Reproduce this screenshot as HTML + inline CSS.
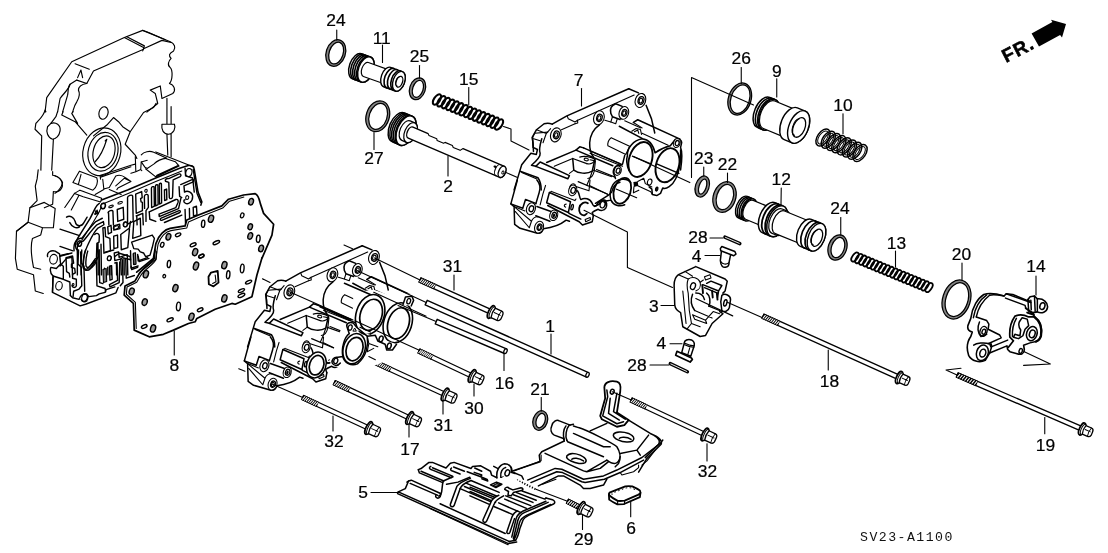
<!DOCTYPE html>
<html><head><meta charset="utf-8"><title>SV23-A1100</title>
<style>
html,body{margin:0;padding:0;background:#fff;}
body{width:1108px;height:553px;overflow:hidden;font-family:"Liberation Sans",sans-serif;}
svg{display:block}

.l{font-family:"Liberation Sans",sans-serif;font-size:17.4px;fill:#000;text-anchor:middle;stroke:#000;stroke-width:0.22px}
.k{stroke:#000;fill:none;stroke-width:1.1;stroke-linecap:round;stroke-linejoin:round}
.t{stroke:#000;fill:none;stroke-width:1.15;stroke-linecap:round;stroke-linejoin:round}
.b{stroke:#000;fill:none;stroke-width:1.5;stroke-linecap:round;stroke-linejoin:round}
.w{stroke:#000;fill:#fff;stroke-width:1.1;stroke-linecap:round;stroke-linejoin:round}
.f{fill:#000;stroke:none}
.c{stroke:#000;fill:none;stroke-width:1.4;stroke-linecap:round;stroke-linejoin:round}
</style></head><body>
<svg style="will-change:transform;opacity:0.9999" width="1108" height="553" viewBox="0 0 1108 553">
<rect width="1108" height="553" fill="#fff"/>
<!-- 10_case.svg -->
<path class="t" d="M 142.72 30.35 L 124.36 37.53 L 71.76 61.74 L 46.72 97.64 L 45.05 112.17" /><path class="t" d="M 142.72 30.35 L 170.28 41.71 C 174.45 43.38 176.12 47.55 173.61 50.89 C 168.61 53.39 168.61 55.9 171.11 58.4 C 168.61 60.91 166.94 65.08 170.28 67.59 C 172.78 70.09 172.78 80.11 169.44 83.45 C 174.45 85.12 176.12 90.13 172.78 93.47 L 161.93 98.48 L 160.26 85.95 L 150.24 90.13 L 155.25 93.47 L 157.75 103.49 L 146.9 112.17" /><path class="t" d="M 124.36 37.53 L 143.56 47.55 M 126.86 36.7 L 144.39 45.88 L 142.72 50.89 M 143.56 30.69 L 148.57 32.52 L 165.27 39.7 M 143.56 48.72 L 161.93 40.37 L 171.11 42.54" /><path class="t" d="M 143.56 49.22 L 93.47 70.93 L 86.79 83.45 L 76.77 80.11 M 75.1 63.75 L 89.29 69.26 M 77.61 77.61 L 80.95 70.09 L 82.61 77.61" /><path class="t" d="M 76.77 80.11 L 70.09 84.28 C 68.42 90.13 63.41 93.47 60.07 98.48 L 57.57 112.17" /><path class="t" d="M 86.79 83.45 C 81.78 84.28 78.44 86.79 78.44 90.13 C 80.95 95.14 78.44 98.48 76.77 101.82 C 73.43 106.83 73.43 110.17 72.6 112.17 M 70.09 84.28 C 67.59 86.79 68.42 91.8 67.59 95.14 L 62.58 112.17" /><path class="t" d="M 45.88 111.69 L 45.05 110.02 C 43.38 116.7 38.37 120.04 35.86 123.38 L 35.03 129.22 L 41.71 135.9 L 40.87 170.13" /><path class="t" d="M 57.57 111.69 L 55.9 116.7 L 50.89 123.38 M 53.39 139.24 L 51.72 170.13" /><path class="t" d="M 50.89 123.38 C 55.9 121.71 60.91 125.05 60.07 130.89 C 59.24 135.9 55.9 139.24 52.56 139.24 C 47.55 137.57 45.88 131.72 47.55 126.72 Z" /><path class="t" d="M 63.08 111.69 L 61.74 115.03 L 75.1 121.71 L 86.79 135.06 M 73.1 111.69 L 71.76 113.36 L 77.61 123.38" /><ellipse class="t" cx="103.49" cy="113.02" rx="4.51" ry="6.34" transform="rotate(15 103.49 113.02)" /><path class="t" d="M 156.08 103.34 L 153.58 107.51 L 143.56 112.52 L 130.2 131.72 L 122.69 126.72 L 118.51 121.71 L 113.5 117.53 L 106.83 125.05 L 93.47 135.9 M 130.2 131.72 L 125.19 144.25 L 135.21 155.1 L 136.88 158.44" /><path class="t" d="M 166.94 98.33 L 166.94 123.38 M 171.11 106.68 L 171.11 123.38 M 161.93 124.21 C 161.09 130.06 163.6 134.23 168.61 134.23 C 173.61 133.39 176.12 128.39 174.45 124.21 M 161.93 124.21 L 174.45 124.21 M 166.94 134.23 L 167.77 155.1 M 171.11 133.39 L 171.11 156.77" /><ellipse class="t" cx="101.82" cy="151.76" rx="18.7" ry="24.21" transform="rotate(15 101.82 151.76)" /><ellipse class="t" cx="102.99" cy="151.76" rx="14.69" ry="19.7" transform="rotate(15 102.99 151.76)" /><ellipse class="t" cx="103.99" cy="151.76" rx="10.69" ry="16.2" transform="rotate(15 103.99 151.76)" /><path class="t" d="M 106.83 139.24 C 103.49 150.09 100.15 156.77 95.14 161.78 M 106.83 139.24 L 105.16 140.91" /><path class="k" d="M 72.9 182.55 L 79.41 171.16 L 96.77 177.67 C 98.4 181.46 96.77 187.43 92.97 190.14 Z M 81.04 174.41 L 78.33 184.72" /><path class="k" d="M 100.03 175.5 L 130.95 165.19 L 135.29 164.1 M 100.57 177.12 L 130.95 166.82 M 100.03 175.5 L 100.57 179.29" /><path class="k" d="M 102.74 179.29 L 103.82 189.06 L 109.25 187.43 L 115.76 176.04 C 119.01 174.41 123.35 176.04 125.52 177.67 L 130.95 181.46 L 117.93 187.97 L 116.84 189.6 M 115.76 185.8 L 124.44 178.21 L 130.95 181.46" /><path class="k" d="M 135.29 156.51 L 135.83 171.7 L 130.95 173.33 M 135.83 171.7 L 140.71 169.53 L 141.25 161.93 L 147.22 160.31 M 140.71 169.53 L 141.8 170.61" /><path class="k" d="M 141.25 154.88 C 143.97 151.63 149.39 150.54 153.73 152.17 L 166.75 158.14 C 162.41 158.68 156.99 160.85 153.73 164.1 L 147.22 168.44 L 145.05 167.36 L 141.25 161.93" /><path class="k" d="M 74.53 193.4 L 79.95 190.14 L 101.65 198.28 M 79.95 190.14 L 84.29 191.77 M 74.53 193.4 L 64.76 207.5 M 78.87 195.57 L 71.27 209.89 M 74.53 193.4 L 83.21 196.65 L 100.57 202.08 L 101.65 198.28" /><path class="k" d="M 95.14 194.48 L 103.82 189.6 M 109.25 189.6 L 121.18 194.48" /><path class="k" d="M 55 176.04 C 58.25 177.12 61.51 179.29 62.59 182.55 C 61.51 186.89 58.25 191.23 55 193.4" /><path class="k" d="M 145.49 168.74 L 155.79 176.88 L 179.11 166.03 L 175.31 161.69 L 165.55 158.44 M 155.79 176.88 L 156.88 175.25 L 178.57 165.16 M 155.79 151.93 L 193.75 167.11" /><path class="b" d="M 200.78 205.14 L 201.87 201.89 L 198.07 192.12 L 194.27 169.34 C 193.73 166.08 191.56 165 188.31 165.54 L 179.63 168.25 L 155.76 178.02 L 127.55 189.95 L 101.51 199.94" /><path class="b" d="M 99.31 203.39 C 96.81 204.73 95.97 206.73 95.14 208.4 L 90.13 218.42 L 77.61 238.46 C 74.27 243.47 75.1 248.48 77.61 250.15" /><path class="k" d="M 102.59 204.06 L 127.55 193.75 L 155.76 181.49 L 181.8 170.97" /><path class="k" d="M 101.82 207.07 C 100.15 208.74 99.81 210.41 99.31 211.74 L 93.47 221.76 L 81.78 240.13" /><ellipse class="k" cx="102.99" cy="205.9" rx="2.14" ry="2.67" transform="rotate(15 102.99 205.9)" /><ellipse class="k" cx="79.28" cy="243.47" rx="2.14" ry="2.67" transform="rotate(15 79.28 243.47)" /><ellipse class="k" cx="125.19" cy="224.27" rx="2" ry="2.5" transform="rotate(15 125.19 224.27)" /><ellipse class="k" cx="116.01" cy="227.61" rx="2.84" ry="1.5" transform="rotate(-20 116.01 227.61)" /><path class="k" d="M 94.8 213.75 L 97.14 210.07 L 98.48 213.75 Z" /><path class="c" d="M 127.55 197.55 C 127.55 195.92 131.89 194.08 132.65 195.92 L 133.19 221.42 L 127.55 224.13 Z" /><path class="c" d="M 135.69 194.08 L 141.65 191.58 L 142.2 197.55 L 140.57 198.63 L 141.11 201.89 L 142.41 202.43 L 142.41 210.57 L 136.23 213.28 Z" /><path class="c" d="M 144.37 196.46 C 144.37 194.29 148.16 193.43 148.16 195.6 L 148.38 207.31 L 145.99 210.57 L 145.99 221.42 M 144.37 196.46 L 144.58 208.4" /><path class="c" d="M 151.42 188.33 C 151.42 186.7 154.13 185.83 154.13 187.57 L 154.35 206.23 L 151.63 207.53 Z" /><path class="c" d="M 155.43 186.16 C 155.43 184.75 157.93 183.99 157.93 185.61 L 158.14 204.6 L 155.65 205.9 Z" /><path class="c" d="M 159.23 184.53 C 159.23 183.23 161.4 182.58 161.4 184.1 L 161.62 202.97 L 159.45 204.06 Z" /><path class="c" d="M 165.52 181.27 C 164.44 179.65 166.61 178.02 168.78 178.56 L 178.54 174.22 C 180.71 173.14 181.8 175.31 180.17 176.72 L 173.12 179.97 L 172.57 196.46 C 172.57 198.63 169.86 199.5 169.32 197.55 L 168.78 182.36 Z" /><path class="c" d="M 164.44 189.95 L 166.61 189.09 L 166.82 199.72 L 164.65 200.59 Z" /><path class="c" d="M 180.71 184.53 L 192.1 179.65 C 193.73 179.1 194.27 181.27 192.65 182.14 L 183.97 185.83 L 184.51 192.12 C 187.22 189.95 192.65 192.12 192.65 196.46 C 192.65 201.89 188.31 205.14 185.05 202.97 C 183.42 201.89 183.42 199.72 185.05 199.72" /><path class="c" d="M 179.08 186.7 L 179.63 196.46 L 181.8 197.55" /><path class="c" d="M 193.19 169.34 L 196.99 193.21 L 200.78 202.43 M 185.05 168.25 L 185.59 175.85 L 192.65 178.02 L 194.27 192.12" /><path class="c" d="M 149.25 211.87 L 175.83 199.5 C 178 198.85 178.54 200.8 178 202.43 L 175.83 207.53 L 159.01 214.04 L 159.23 216.54 L 178.54 208.62 L 180.93 198.09" /><path class="c" d="M 149.25 211.87 L 149.79 219.25 L 155.76 221.42" /><path class="c" d="M 161.18 218.16 L 179.08 210.57 C 180.71 210.35 180.71 212.2 179.41 212.74 L 161.72 220.33 C 160.1 220.55 159.88 218.71 161.18 218.16 Z" /><path class="c" d="M 164.44 222.5 L 181.8 215.12" /><path class="c" d="M 185.05 209.48 L 185.59 224.89 M 189.39 208.4 L 189.61 219.25 M 193.19 207.31 L 193.51 215.99 L 196.99 214.91 L 196.44 206.23 Z" /><path class="c" d="M 108.02 212.74 C 108.02 211.11 112.36 209.48 112.9 211.11 L 113.44 224.89 M 108.56 212.74 L 108.89 224.89" /><path class="c" d="M 117.24 209.48 L 123.21 207.31 L 123.75 219.25 L 117.78 221.42 Z" /><path class="c" d="M 136.23 215.99 L 142.74 213.28 L 143.28 224.89 M 136.77 215.99 L 137.1 224.89" /><path class="c" d="M 95.54 211.11 L 97.71 212.74 L 95 214.37" /><ellipse class="k" cx="145.99" cy="190.82" rx="1.19" ry="1.52" transform="rotate(15 145.99 190.82)" /><ellipse class="k" cx="187.22" cy="197.55" rx="1.52" ry="1.95" transform="rotate(15 187.22 197.55)" /><ellipse class="k" cx="188.85" cy="172.59" rx="3.04" ry="4.12" transform="rotate(15 188.85 172.59)" /><ellipse class="k" cx="103.14" cy="206.01" rx="2.39" ry="3.04" transform="rotate(15 103.14 206.01)" /><ellipse class="k" cx="111.06" cy="206.45" rx="2.39" ry="0.98" transform="rotate(-20 111.06 206.45)" /><ellipse class="k" cx="120.17" cy="202.76" rx="2.39" ry="0.98" transform="rotate(-20 120.17 202.76)" /><path class="c" d="M 74.1 250.8 C 73.02 242.12 77.36 237.78 81.7 238.33 C 84.95 234.53 90.38 226.93 95.8 221.51 L 102.31 218.25" /><path class="c" d="M 77.36 251.89 C 76.27 245.38 79.53 241.04 83.33 241.04 C 87.12 236.7 91.46 230.19 96.89 224.76 L 103.4 221.51 L 103.94 224.76 L 97.97 228.02 C 92.55 233.44 90.38 239.95 87.12 246.46 C 84.95 250.8 83.33 258.4 83.33 264.91 C 83.33 269.25 86.04 270.33 88.21 268.16 L 94.72 260.57" /><path class="c" d="M 80.61 251.89 L 81.16 274.89 M 77.36 252.43 L 77.36 274.89" /><path class="c" d="M 94.72 234.53 C 96.89 232.36 99.6 233.44 99.28 236.7 L 99.06 242.12 L 96.89 243.43 L 96.35 260.57 C 95.8 263.82 92.55 267.08 89.29 269.25 M 97.97 243.21 L 98.19 274.89 M 101.01 244.29 L 101.45 274.89" /><path class="c" d="M 102.86 228.02 L 105.03 227.48 L 105.57 236.7 L 109.91 238.33 L 110.45 250.8 L 103.94 253.19 L 103.4 236.7 Z" /><path class="c" d="M 107.74 226.93 L 110.99 225.31 L 111.54 232.36 L 108.28 233.99 Z" /><path class="c" d="M 113.71 225.85 L 119.67 224.22 L 119.89 228.56 L 113.92 230.19 Z" /><path class="c" d="M 113.71 236.16 L 117.5 235.07 L 117.72 247.55 L 113.92 248.63 Z" /><path class="c" d="M 120.76 234.53 L 129.44 228.02 L 130.52 221.51 M 120.76 234.53 L 121.3 249.72 L 127.81 247.55 L 129.44 229.1" /><path class="c" d="M 133.78 221.51 L 140.29 218.25 L 140.83 235.61 L 132.69 238.33 Z" /><path class="c" d="M 131.61 242.12 L 152.22 235.07 L 154.39 238.33 L 152.22 247.55 L 150.05 255.14 L 145.71 256.77 L 143.54 252.97 L 140.29 251.89 L 138.12 249.18 L 133.78 248.63 Z" /><path class="c" d="M 114.25 252.97 L 118.59 251.89 L 119.13 257.31 L 127.27 254.6 L 127.81 274.89 M 114.25 252.97 L 114.79 260.57 L 120.76 258.94 L 121.3 274.89 M 124.01 258.4 L 124.23 274.89" /><path class="c" d="M 130.52 250.8 L 131.06 268.16 L 138.12 265.99 M 138.12 256.23 L 139.2 261.65 L 148.97 258.4" /><path class="c" d="M 104.48 268.16 L 104.7 274.89 M 107.74 267.08 L 107.95 274.89 M 110.99 265.99 L 111.21 274.89 M 116.42 262.74 L 116.63 274.89" /><path class="c" d="M 66.51 217.17 C 69.76 215 74.1 217.17 75.19 221.51 C 76.27 226.93 81.7 226.93 83.87 222.59 L 87.12 217.17 M 69.76 222.59 C 71.93 226.93 76.27 229.1 79.53 226.93" /><path class="c" d="M 60 229.1 L 79.53 235.61 M 60 246.46 L 73.02 250.8 M 60 256.23 L 71.93 252.97 M 60 265.99 L 66.51 258.4 L 71.93 257.31 L 72.48 274.89" /><ellipse class="k" cx="79.53" cy="243.75" rx="2.17" ry="2.71" transform="rotate(15 79.53 243.75)" /><ellipse class="k" cx="125.64" cy="224.55" rx="1.95" ry="2.39" transform="rotate(15 125.64 224.55)" /><ellipse class="k" cx="109.37" cy="258.4" rx="1.95" ry="2.39" transform="rotate(15 109.37 258.4)" /><path class="k" d="M 133.23 254.06 L 135.4 253.52 L 135.62 263.82 L 133.45 264.37 Z" style="fill:#777"/><path class="t" d="M 38.19 169.88 L 37.11 178.91 L 35.3 186.14 L 37.11 200.6 L 29.88 207.82 L 28.07 222.28 L 16.51 231.32 L 15.42 258.42 L 17.23 269.26 L 33.49 274.68 L 35.3 290.95 L 43.25 293.48" /><path class="t" d="M 52.65 171.68 L 52.65 175.3 C 60.6 176.02 64.93 184.33 60.6 189.75 C 57.71 192.65 54.09 191.92 53.37 191.56 L 52.65 204.21 L 44.33 207.82" /><path class="t" d="M 29.88 207.82 L 44.33 202.4 L 55.18 208.55 L 53.37 227.7 L 42.53 227.7 L 28.07 222.28 M 42.53 227.7 L 40.72 234.93 L 32.41 238.54 C 29.88 247.58 31.68 258.42 33.49 267.46 L 40.72 269.26 M 16.51 231.32 L 28.07 222.28" /><path class="c" d="M 47.59 256.51 C 46.51 252.17 50.85 250 55.19 251.08 L 59.53 253.8 L 60.61 264.1 L 56.27 268.44 L 50.85 267.36 C 49.76 270.61 50.85 273.87 53.02 276.04 L 52.48 292.31 L 80.14 305.88 L 85.57 304.25 L 115.95 292.86 L 118.12 287.43" /><path class="c" d="M 60.61 255.42 L 68.21 253.8 M 60.61 264.1 L 63.33 266.27 L 63.33 279.29 L 53.02 276.04 M 63.33 279.29 L 69.84 282.01 L 70.38 295.57 M 52.48 292.31 L 53.02 277.12" /><path class="c" d="M 70.38 295.57 L 72.55 297.74 L 79.06 299.37 C 80.14 295.57 83.4 292.86 86.65 293.94 L 88.82 296.65 L 96.42 295.57 L 99.13 293.94 L 105.1 292.31 L 106.18 289.6 L 114.86 286.89 M 86.65 293.94 C 88.28 295.57 88.28 298.82 86.65 300.99 C 84.48 302.62 81.77 301.54 81.23 299.37" /><path class="c" d="M 66.04 257.59 L 72.55 255.97 L 73.63 263.02 L 71.46 264.1 L 71.46 267.36 L 74.72 268.44 L 75.26 272.78 L 72.55 274.41 L 72.55 278.21 L 76.35 279.29 L 76.35 285.8 C 75.8 287.97 72.55 287.97 72.01 285.8 M 66.04 257.59 L 66.58 271.7 L 69.29 273.33 L 69.84 277.12" /><path class="c" d="M 78.52 250 L 77.97 264.1 L 81.23 267.36 L 81.77 285.8 L 79.06 289.06 L 73.63 291.23 L 73.09 296.65" /><path class="c" d="M 81.77 250 L 81.23 263.02 L 83.94 266.27 L 84.7 291.23" /><path class="c" d="M 85.57 250 C 83.4 255.42 83.4 260.85 82.86 266.27 C 83.4 270.61 87.74 271.7 90.45 268.44 L 96.42 259.76 L 98.59 256.51 L 99.13 250" /><path class="c" d="M 87.74 251.08 C 86.11 256.51 85.57 263.02 86.11 266.27 C 87.2 268.44 89.37 267.36 90.99 265.19 L 95.33 258.68" /><path class="c" d="M 96.42 261.93 L 96.96 285.8 L 105.1 288.52 L 105.64 291.77" /><path class="c" d="M 99.13 250 L 99.67 282.55 L 102.93 283.63" /><path class="c" d="M 109.44 266.27 L 111.61 265.73 L 112.15 279.29 L 109.98 280.16 Z" /><path class="c" d="M 114.86 263.02 L 117.03 262.48 L 117.57 280.38 L 109.44 284.72 L 109.98 286.89 L 119.2 282.55 L 119.74 261.93" /><path class="c" d="M 122.46 259.76 L 123 282.55 L 120.29 285.8" /><path class="c" d="M 125.71 258.68 L 126.25 278.21 L 134.39 275.5" /><path class="c" d="M 105.1 252.17 L 113.78 250" /><path class="c" d="M 114.86 256.51 L 119.2 253.25 L 130.05 256.51 L 130.59 259.76 L 122.46 257.59 L 120.29 259.76" /><path class="c" d="M 137.65 254.34 L 138.19 260.85 L 147.41 257.59 M 131.14 266.27 L 131.68 269.53 L 137.65 267.36" /><ellipse class="k" cx="53.56" cy="259.22" rx="3.8" ry="4.88" transform="rotate(10 53.56 259.22)" /><ellipse class="k" cx="58.99" cy="285.8" rx="3.25" ry="4.34" transform="rotate(10 58.99 285.8)" /><ellipse class="k" cx="84.48" cy="297.74" rx="2.71" ry="3.58" transform="rotate(15 84.48 297.74)" /><ellipse class="k" cx="73.09" cy="284.72" rx="0.87" ry="1.19" transform="rotate(15 73.09 284.72)" /><ellipse class="k" cx="109.22" cy="258.14" rx="1.84" ry="2.39" transform="rotate(15 109.22 258.14)" /><path class="k" d="M 102.93 269.53 L 106.18 268.44 L 106.72 281.46 L 103.47 282.55 Z" style="fill:#777"/><path class="k" d="M 133.31 253.25 L 135.48 252.71 L 136.02 264.1 L 133.85 264.65 Z" style="fill:#777"/>

<!-- 15_gasket.svg -->
<path d="M 136.71 272.17 L 153.4 258.48 L 155.91 243.45 C 158.41 235.1 165.09 229.26 170.1 228.42 L 185.13 225.92 L 186.8 220.07 L 198.49 215.06 L 221.86 205.88 L 228.54 199.2 L 243.57 195.03 L 255.26 193.69 C 258.6 195.03 259.43 200.04 260.27 203.38 L 263.61 213.39 L 273.62 224.25 L 271.95 235.1 L 261.94 258.48 L 260.27 272.17 L 256.93 275.05 L 251.92 296.75 L 235.22 304.27 L 231.88 303.43 L 215.18 309.28 L 196.82 318.46 L 195.15 321.8 L 188.47 323.47 L 173.44 330.15 L 163.42 334.32 L 149.23 336.83 L 134.2 330.15 L 133.37 303.43 L 124.18 295.08 L 125.02 285.9 L 135.04 280.89 L 138.38 275.05 Z" fill="#fff" stroke="none"/><path class="b" d="M 136.71 272.17 L 153.4 258.48 L 155.91 243.45 C 158.41 235.1 165.09 229.26 170.1 228.42 L 185.13 225.92 L 186.8 220.07 L 198.49 215.06 L 221.86 205.88 L 228.54 199.2 L 243.57 195.03 L 255.26 193.69 C 258.6 195.03 259.43 200.04 260.27 203.38 L 263.61 213.39 L 273.62 224.25 L 271.95 235.1 L 262.27 257.64" style="stroke-width:1.7"/><path class="b" d="M 155.07 250 L 154.24 258.35 C 151.73 263.36 141.72 268.37 138.38 275.05 L 135.04 280.89 L 125.02 285.9 L 124.18 295.08 L 133.37 303.43 L 134.2 330.15 L 149.23 336.83 L 163.42 334.32 L 173.44 330.15 L 188.47 323.47 L 195.15 321.8 L 196.82 318.46 L 215.18 309.28 L 231.88 303.43 L 235.22 304.27 L 251.92 296.75 L 256.93 275.05 L 262.1 257.51" style="stroke-width:1.7"/><path class="k" d="M 140.05 272.17 L 155.57 259.48 L 158.08 244.28 C 160.42 236.77 165.93 231.43 170.94 230.59 L 186.8 227.92 L 188.47 222.08 L 199.32 217.23 L 222.7 208.05 L 229.54 201.21 L 243.9 197.03" /><path class="k" d="M 156.74 251.67 L 156.24 259.18 C 153.74 264.69 143.72 269.7 140.38 276.05 L 136.71 282.23 L 127.02 287.07 L 126.35 294.25 L 135.37 302.43 L 136.21 328.48" /><ellipse class="k" cx="251.08" cy="201.71" rx="2.3" ry="3.38" transform="rotate(18 251.08 201.71)" style="stroke-width:1.4;fill:#9a9a9a"/><ellipse class="k" cx="242.23" cy="215.4" rx="1.67" ry="2.5" transform="rotate(18 242.23 215.4)" style="stroke-width:1.3"/><ellipse class="k" cx="250.25" cy="226.75" rx="2.15" ry="3.07" transform="rotate(18 250.25 226.75)" style="stroke-width:1.4;fill:#9a9a9a"/><ellipse class="k" cx="250.25" cy="235.94" rx="2.3" ry="3.38" transform="rotate(18 250.25 235.94)" style="stroke-width:1.4;fill:#9a9a9a"/><ellipse class="k" cx="258.26" cy="238.77" rx="1.84" ry="3.67" transform="rotate(5 258.26 238.77)" style="stroke-width:1.4"/><ellipse class="k" cx="261.1" cy="248.46" rx="2.3" ry="3.38" transform="rotate(18 261.1 248.46)" style="stroke-width:1.4;fill:#9a9a9a"/><ellipse class="k" cx="211.01" cy="218.74" rx="2.46" ry="3.69" transform="rotate(18 211.01 218.74)" style="stroke-width:1.4;fill:#9a9a9a"/><ellipse class="k" cx="203.16" cy="223.75" rx="1.67" ry="3.67" transform="rotate(5 203.16 223.75)" style="stroke-width:1.4"/><ellipse class="k" cx="168.43" cy="236.77" rx="2.3" ry="3.38" transform="rotate(18 168.43 236.77)" style="stroke-width:1.4;fill:#9a9a9a"/><ellipse class="k" cx="178.12" cy="234.77" rx="2.84" ry="1.5" transform="rotate(-25 178.12 234.77)" style="stroke-width:1.4"/><ellipse class="k" cx="162.25" cy="244.79" rx="1.67" ry="2.5" transform="rotate(18 162.25 244.79)" style="stroke-width:1.3"/><ellipse class="k" cx="193.14" cy="244.79" rx="3.17" ry="1.5" transform="rotate(-25 193.14 244.79)" style="stroke-width:1.4"/><ellipse class="k" cx="216.35" cy="242.61" rx="3.51" ry="1.5" transform="rotate(-25 216.35 242.61)" style="stroke-width:1.4"/><ellipse class="k" cx="195.15" cy="252.13" rx="2.46" ry="3.69" transform="rotate(18 195.15 252.13)" style="stroke-width:1.4;fill:#9a9a9a"/><ellipse class="k" cx="201.32" cy="255.97" rx="2.84" ry="1.5" transform="rotate(-25 201.32 255.97)" style="stroke-width:1.4"/><ellipse class="k" cx="168.93" cy="263.99" rx="1.67" ry="3.67" transform="rotate(5 168.93 263.99)" style="stroke-width:1.4"/><ellipse class="k" cx="195.98" cy="265.99" rx="2.46" ry="3.99" transform="rotate(18 195.98 265.99)" style="stroke-width:1.4;fill:#9a9a9a"/><ellipse class="k" cx="224.37" cy="265.16" rx="2.46" ry="3.69" transform="rotate(18 224.37 265.16)" style="stroke-width:1.4;fill:#9a9a9a"/><ellipse class="k" cx="242.23" cy="268.5" rx="1.84" ry="4.34" transform="rotate(5 242.23 268.5)" style="stroke-width:1.4"/><ellipse class="k" cx="145.89" cy="274.21" rx="2.46" ry="3.69" transform="rotate(18 145.89 274.21)" style="stroke-width:1.4;fill:#9a9a9a"/><ellipse class="k" cx="131.7" cy="291.41" rx="2.46" ry="3.38" transform="rotate(18 131.7 291.41)" style="stroke-width:1.4;fill:#9a9a9a"/><ellipse class="k" cx="144.72" cy="302.1" rx="2.46" ry="3.38" transform="rotate(18 144.72 302.1)" style="stroke-width:1.4;fill:#9a9a9a"/><ellipse class="k" cx="153.07" cy="328.48" rx="2.46" ry="3.69" transform="rotate(18 153.07 328.48)" style="stroke-width:1.4;fill:#9a9a9a"/><ellipse class="k" cx="144.22" cy="326.47" rx="3.01" ry="1.5" transform="rotate(-25 144.22 326.47)" style="stroke-width:1.4"/><ellipse class="k" cx="170.1" cy="319.79" rx="3.34" ry="1.5" transform="rotate(-25 170.1 319.79)" style="stroke-width:1.4"/><ellipse class="k" cx="164.26" cy="276.21" rx="1.34" ry="1.67" transform="rotate(18 164.26 276.21)" style="stroke-width:1.3"/><ellipse class="k" cx="175.44" cy="288.07" rx="2.46" ry="3.69" transform="rotate(18 175.44 288.07)" style="stroke-width:1.4;fill:#9a9a9a"/><ellipse class="k" cx="178.45" cy="306.44" rx="2" ry="4.34" transform="rotate(5 178.45 306.44)" style="stroke-width:1.4"/><ellipse class="k" cx="191.47" cy="316.79" rx="2.46" ry="3.69" transform="rotate(18 191.47 316.79)" style="stroke-width:1.4;fill:#9a9a9a"/><ellipse class="k" cx="200.16" cy="309.78" rx="3.01" ry="1.5" transform="rotate(-25 200.16 309.78)" style="stroke-width:1.4"/><ellipse class="k" cx="201.32" cy="256.34" rx="2.84" ry="1.5" transform="rotate(-25 201.32 256.34)" style="stroke-width:1.4"/><ellipse class="k" cx="228.21" cy="274.71" rx="1.67" ry="4.01" transform="rotate(5 228.21 274.71)" style="stroke-width:1.4"/><ellipse class="k" cx="224.37" cy="298.42" rx="2.46" ry="3.69" transform="rotate(18 224.37 298.42)" style="stroke-width:1.4;fill:#9a9a9a"/><ellipse class="k" cx="248.58" cy="282.06" rx="3.34" ry="1.34" transform="rotate(-25 248.58 282.06)" style="stroke-width:1.4"/><ellipse class="k" cx="241.4" cy="290.57" rx="3.34" ry="1.34" transform="rotate(-25 241.4 290.57)" style="stroke-width:1.4"/><ellipse class="k" cx="241.4" cy="295.42" rx="3.67" ry="1.5" transform="rotate(-25 241.4 295.42)" style="stroke-width:1.4"/><path class="b" d="M 211.01 272.54 L 217.69 270.87 L 218.52 282.56 L 213.51 286.4 L 208.84 284.23 L 208.5 276.72 Z" style="stroke-width:1.8"/><path class="k" d="M 215.18 275.05 L 216.02 281.72 L 212.68 283.39" /><path class="k" d="M174.25 331L174.25 355" />

<!-- 20_orings.svg -->
<ellipse class="k" cx="335.75" cy="53" rx="9.6" ry="13.6" transform="rotate(18 335.75 53)" style="stroke-width:1.25;stroke:#000;fill:#858585"/><ellipse class="k" cx="336.15" cy="53.1" rx="7" ry="11.2" transform="rotate(18 336.15 53.1)" style="stroke-width:1.25;stroke:#000;fill:#fff"/><ellipse class="k" cx="417.5" cy="88.75" rx="7.8" ry="11.2" transform="rotate(18 417.5 88.75)" style="stroke-width:1.25;stroke:#000;fill:#858585"/><ellipse class="k" cx="417.9" cy="88.85" rx="5.2" ry="8.8" transform="rotate(18 417.9 88.85)" style="stroke-width:1.25;stroke:#000;fill:#fff"/><ellipse class="k" cx="377.75" cy="116.25" rx="11.5" ry="15.8" transform="rotate(18 377.75 116.25)" style="stroke-width:1.25;stroke:#000;fill:#858585"/><ellipse class="k" cx="378.15" cy="116.35" rx="8.9" ry="13.4" transform="rotate(18 378.15 116.35)" style="stroke-width:1.25;stroke:#000;fill:#fff"/><ellipse class="k" cx="739.75" cy="99" rx="11.3" ry="16.5" transform="rotate(18 739.75 99)" style="stroke-width:1.25;stroke:#000;fill:#858585"/><ellipse class="k" cx="740.15" cy="99.1" rx="9.3" ry="14.7" transform="rotate(18 740.15 99.1)" style="stroke-width:1.25;stroke:#000;fill:#fff"/><ellipse class="k" cx="702.25" cy="186.5" rx="6.8" ry="10.8" transform="rotate(18 702.25 186.5)" style="stroke-width:1.25;stroke:#000;fill:#858585"/><ellipse class="k" cx="702.65" cy="186.6" rx="3.6" ry="7.8" transform="rotate(18 702.65 186.6)" style="stroke-width:1.25;stroke:#000;fill:#fff"/><ellipse class="k" cx="724.5" cy="197" rx="11.2" ry="15.8" transform="rotate(18 724.5 197)" style="stroke-width:1.25;stroke:#000;fill:#858585"/><ellipse class="k" cx="724.9" cy="197.1" rx="8.2" ry="13" transform="rotate(18 724.9 197.1)" style="stroke-width:1.25;stroke:#000;fill:#fff"/><ellipse class="k" cx="837.5" cy="247.5" rx="9.2" ry="13" transform="rotate(18 837.5 247.5)" style="stroke-width:1.25;stroke:#000;fill:#858585"/><ellipse class="k" cx="837.9" cy="247.6" rx="6.4" ry="10.4" transform="rotate(18 837.9 247.6)" style="stroke-width:1.25;stroke:#000;fill:#fff"/><ellipse class="k" cx="956.5" cy="299.5" rx="13.8" ry="20" transform="rotate(18 956.5 299.5)" style="stroke-width:1.25;stroke:#000;fill:#858585"/><ellipse class="k" cx="956.9" cy="299.6" rx="11" ry="17.4" transform="rotate(18 956.9 299.6)" style="stroke-width:1.25;stroke:#000;fill:#fff"/><ellipse class="k" cx="540.25" cy="420.5" rx="7.2" ry="10" transform="rotate(18 540.25 420.5)" style="stroke-width:1.25;stroke:#000;fill:#858585"/><ellipse class="k" cx="540.65" cy="420.6" rx="4.4" ry="7.4" transform="rotate(18 540.65 420.6)" style="stroke-width:1.25;stroke:#000;fill:#fff"/>

<!-- 21_springs.svg -->
<ellipse class="k" cx="437" cy="99.5" rx="3" ry="6" transform="rotate(33.96 437 99.5)" style="stroke-width:2.1;fill:none"/><ellipse class="k" cx="441.43" cy="101.29" rx="3" ry="6" transform="rotate(33.96 441.43 101.29)" style="stroke-width:2.1;fill:none"/><ellipse class="k" cx="445.86" cy="103.07" rx="3" ry="6" transform="rotate(33.96 445.86 103.07)" style="stroke-width:2.1;fill:none"/><ellipse class="k" cx="450.29" cy="104.86" rx="3" ry="6" transform="rotate(33.96 450.29 104.86)" style="stroke-width:2.1;fill:none"/><ellipse class="k" cx="454.71" cy="106.64" rx="3" ry="6" transform="rotate(33.96 454.71 106.64)" style="stroke-width:2.1;fill:none"/><ellipse class="k" cx="459.14" cy="108.43" rx="3" ry="6" transform="rotate(33.96 459.14 108.43)" style="stroke-width:2.1;fill:none"/><ellipse class="k" cx="463.57" cy="110.21" rx="3" ry="6" transform="rotate(33.96 463.57 110.21)" style="stroke-width:2.1;fill:none"/><ellipse class="k" cx="468" cy="112" rx="3" ry="6" transform="rotate(33.96 468 112)" style="stroke-width:2.1;fill:none"/><ellipse class="k" cx="472.43" cy="113.79" rx="3" ry="6" transform="rotate(33.96 472.43 113.79)" style="stroke-width:2.1;fill:none"/><ellipse class="k" cx="476.86" cy="115.57" rx="3" ry="6" transform="rotate(33.96 476.86 115.57)" style="stroke-width:2.1;fill:none"/><ellipse class="k" cx="481.29" cy="117.36" rx="3" ry="6" transform="rotate(33.96 481.29 117.36)" style="stroke-width:2.1;fill:none"/><ellipse class="k" cx="485.71" cy="119.14" rx="3" ry="6" transform="rotate(33.96 485.71 119.14)" style="stroke-width:2.1;fill:none"/><ellipse class="k" cx="490.14" cy="120.93" rx="3" ry="6" transform="rotate(33.96 490.14 120.93)" style="stroke-width:2.1;fill:none"/><ellipse class="k" cx="494.57" cy="122.71" rx="3" ry="6" transform="rotate(33.96 494.57 122.71)" style="stroke-width:2.1;fill:none"/><ellipse class="k" cx="499" cy="124.5" rx="3" ry="6" transform="rotate(33.96 499 124.5)" style="stroke-width:2.1;fill:none"/><ellipse class="k" cx="823" cy="137.5" rx="5.6" ry="9.6" transform="rotate(34.73 823 137.5)" style="stroke-width:1.5;fill:none"/><ellipse class="k" cx="828.29" cy="139.71" rx="5.6" ry="9.6" transform="rotate(34.73 828.29 139.71)" style="stroke-width:1.5;fill:none"/><ellipse class="k" cx="833.57" cy="141.93" rx="5.6" ry="9.6" transform="rotate(34.73 833.57 141.93)" style="stroke-width:1.5;fill:none"/><ellipse class="k" cx="838.86" cy="144.14" rx="5.6" ry="9.6" transform="rotate(34.73 838.86 144.14)" style="stroke-width:1.5;fill:none"/><ellipse class="k" cx="844.14" cy="146.36" rx="5.6" ry="9.6" transform="rotate(34.73 844.14 146.36)" style="stroke-width:1.5;fill:none"/><ellipse class="k" cx="849.43" cy="148.57" rx="5.6" ry="9.6" transform="rotate(34.73 849.43 148.57)" style="stroke-width:1.5;fill:none"/><ellipse class="k" cx="854.71" cy="150.79" rx="5.6" ry="9.6" transform="rotate(34.73 854.71 150.79)" style="stroke-width:1.5;fill:none"/><ellipse class="k" cx="860" cy="153" rx="5.6" ry="9.6" transform="rotate(34.73 860 153)" style="stroke-width:1.5;fill:none"/><ellipse class="k" cx="823" cy="137.5" rx="4" ry="7.4" transform="rotate(34.73 823 137.5)" style="stroke-width:1.0;fill:none"/><ellipse class="k" cx="828.29" cy="139.71" rx="4" ry="7.4" transform="rotate(34.73 828.29 139.71)" style="stroke-width:1.0;fill:none"/><ellipse class="k" cx="833.57" cy="141.93" rx="4" ry="7.4" transform="rotate(34.73 833.57 141.93)" style="stroke-width:1.0;fill:none"/><ellipse class="k" cx="838.86" cy="144.14" rx="4" ry="7.4" transform="rotate(34.73 838.86 144.14)" style="stroke-width:1.0;fill:none"/><ellipse class="k" cx="844.14" cy="146.36" rx="4" ry="7.4" transform="rotate(34.73 844.14 146.36)" style="stroke-width:1.0;fill:none"/><ellipse class="k" cx="849.43" cy="148.57" rx="4" ry="7.4" transform="rotate(34.73 849.43 148.57)" style="stroke-width:1.0;fill:none"/><ellipse class="k" cx="854.71" cy="150.79" rx="4" ry="7.4" transform="rotate(34.73 854.71 150.79)" style="stroke-width:1.0;fill:none"/><ellipse class="k" cx="860" cy="153" rx="4" ry="7.4" transform="rotate(34.73 860 153)" style="stroke-width:1.0;fill:none"/><ellipse class="k" cx="855" cy="257" rx="2.6" ry="5.2" transform="rotate(34.4 855 257)" style="stroke-width:1.8;fill:none"/><ellipse class="k" cx="858.89" cy="258.61" rx="2.6" ry="5.2" transform="rotate(34.4 858.89 258.61)" style="stroke-width:1.8;fill:none"/><ellipse class="k" cx="862.79" cy="260.21" rx="2.6" ry="5.2" transform="rotate(34.4 862.79 260.21)" style="stroke-width:1.8;fill:none"/><ellipse class="k" cx="866.68" cy="261.82" rx="2.6" ry="5.2" transform="rotate(34.4 866.68 261.82)" style="stroke-width:1.8;fill:none"/><ellipse class="k" cx="870.58" cy="263.42" rx="2.6" ry="5.2" transform="rotate(34.4 870.58 263.42)" style="stroke-width:1.8;fill:none"/><ellipse class="k" cx="874.47" cy="265.03" rx="2.6" ry="5.2" transform="rotate(34.4 874.47 265.03)" style="stroke-width:1.8;fill:none"/><ellipse class="k" cx="878.37" cy="266.63" rx="2.6" ry="5.2" transform="rotate(34.4 878.37 266.63)" style="stroke-width:1.8;fill:none"/><ellipse class="k" cx="882.26" cy="268.24" rx="2.6" ry="5.2" transform="rotate(34.4 882.26 268.24)" style="stroke-width:1.8;fill:none"/><ellipse class="k" cx="886.16" cy="269.84" rx="2.6" ry="5.2" transform="rotate(34.4 886.16 269.84)" style="stroke-width:1.8;fill:none"/><ellipse class="k" cx="890.05" cy="271.45" rx="2.6" ry="5.2" transform="rotate(34.4 890.05 271.45)" style="stroke-width:1.8;fill:none"/><ellipse class="k" cx="893.95" cy="273.05" rx="2.6" ry="5.2" transform="rotate(34.4 893.95 273.05)" style="stroke-width:1.8;fill:none"/><ellipse class="k" cx="897.84" cy="274.66" rx="2.6" ry="5.2" transform="rotate(34.4 897.84 274.66)" style="stroke-width:1.8;fill:none"/><ellipse class="k" cx="901.74" cy="276.26" rx="2.6" ry="5.2" transform="rotate(34.4 901.74 276.26)" style="stroke-width:1.8;fill:none"/><ellipse class="k" cx="905.63" cy="277.87" rx="2.6" ry="5.2" transform="rotate(34.4 905.63 277.87)" style="stroke-width:1.8;fill:none"/><ellipse class="k" cx="909.53" cy="279.47" rx="2.6" ry="5.2" transform="rotate(34.4 909.53 279.47)" style="stroke-width:1.8;fill:none"/><ellipse class="k" cx="913.42" cy="281.08" rx="2.6" ry="5.2" transform="rotate(34.4 913.42 281.08)" style="stroke-width:1.8;fill:none"/><ellipse class="k" cx="917.32" cy="282.68" rx="2.6" ry="5.2" transform="rotate(34.4 917.32 282.68)" style="stroke-width:1.8;fill:none"/><ellipse class="k" cx="921.21" cy="284.29" rx="2.6" ry="5.2" transform="rotate(34.4 921.21 284.29)" style="stroke-width:1.8;fill:none"/><ellipse class="k" cx="925.11" cy="285.89" rx="2.6" ry="5.2" transform="rotate(34.4 925.11 285.89)" style="stroke-width:1.8;fill:none"/><ellipse class="k" cx="929" cy="287.5" rx="2.6" ry="5.2" transform="rotate(34.4 929 287.5)" style="stroke-width:1.8;fill:none"/>

<!-- 30_bolts.svg -->
<path class="w" d="M301.78 399.5L366.58 429.5L368.42 425.5L303.62 395.5Z" style="stroke-width:1.35"/><path class="f" d="M301.78 399.5L316.3 406.22L318.14 402.23L303.62 395.5Z" style="fill:#000;stroke:#000;stroke-width:1.2"/><path class="k" d="M302.64 399.29L304.94 396.72" style="stroke:#fff;stroke-width:1.05"/><path class="k" d="M304.46 400.13L306.75 397.56" style="stroke:#fff;stroke-width:1.05"/><path class="k" d="M306.27 400.97L308.57 398.4" style="stroke:#fff;stroke-width:1.05"/><path class="k" d="M308.09 401.81L310.38 399.24" style="stroke:#fff;stroke-width:1.05"/><path class="k" d="M309.9 402.65L312.2 400.08" style="stroke:#fff;stroke-width:1.05"/><path class="k" d="M311.72 403.49L314.01 400.92" style="stroke:#fff;stroke-width:1.05"/><path class="k" d="M313.53 404.33L315.83 401.76" style="stroke:#fff;stroke-width:1.05"/><path class="k" d="M315.35 405.17L317.64 402.6" style="stroke:#fff;stroke-width:1.05"/><g transform="translate(367.5 427.5) rotate(24.84)"><ellipse class="w" cx="1.2" cy="0" rx="2.6" ry="6.95" style="stroke-width:1.7"/><ellipse class="w" cx="2.6" cy="0" rx="2.2" ry="5.95" style="stroke-width:1"/><path class="w" style="stroke-width:1.3" d="M3.4 -5.15 L10.5 -5.15 Q13 -5.15 13 -1.55 L13 2.58 Q12.5 5.15 10 5.15 L3.4 5.15 Q1.8 0 3.4 -5.15Z"/><path class="k" style="stroke-width:0.9" d="M4.2 -0.77 L11 -0.77 M10.4 -5.15 Q8.8 0 10 5.15"/></g><path class="w" d="M333.37 384.69L407.57 419.49L409.43 415.51L335.23 380.71Z" style="stroke-width:1.35"/><path class="f" d="M333.37 384.69L347.85 391.49L349.72 387.5L335.23 380.71Z" style="fill:#000;stroke:#000;stroke-width:1.2"/><path class="k" d="M334.23 384.49L336.54 381.93" style="stroke:#fff;stroke-width:1.05"/><path class="k" d="M336.04 385.34L338.35 382.78" style="stroke:#fff;stroke-width:1.05"/><path class="k" d="M337.85 386.19L340.16 383.63" style="stroke:#fff;stroke-width:1.05"/><path class="k" d="M339.67 387.04L341.97 384.48" style="stroke:#fff;stroke-width:1.05"/><path class="k" d="M341.48 387.89L343.78 385.32" style="stroke:#fff;stroke-width:1.05"/><path class="k" d="M343.29 388.74L345.59 386.17" style="stroke:#fff;stroke-width:1.05"/><path class="k" d="M345.1 389.59L347.4 387.02" style="stroke:#fff;stroke-width:1.05"/><path class="k" d="M346.91 390.44L349.21 387.87" style="stroke:#fff;stroke-width:1.05"/><g transform="translate(408.5 417.5) rotate(25.13)"><ellipse class="w" cx="1.2" cy="0" rx="2.6" ry="6.95" style="stroke-width:1.7"/><ellipse class="w" cx="2.6" cy="0" rx="2.2" ry="5.95" style="stroke-width:1"/><path class="w" style="stroke-width:1.3" d="M3.4 -5.15 L10.5 -5.15 Q13 -5.15 13 -1.55 L13 2.58 Q12.5 5.15 10 5.15 L3.4 5.15 Q1.8 0 3.4 -5.15Z"/><path class="k" style="stroke-width:0.9" d="M4.2 -0.77 L11 -0.77 M10.4 -5.15 Q8.8 0 10 5.15"/></g><path class="w" d="M374.58 364.5L443.08 396L444.92 392L376.42 360.5Z" style="stroke-width:1.35"/><path class="f" d="M374.58 364.5L389.12 371.18L390.96 367.19L376.42 360.5Z" style="fill:#000;stroke:#000;stroke-width:1.2"/><path class="k" d="M375.45 364.29L377.73 361.71" style="stroke:#fff;stroke-width:1.05"/><path class="k" d="M377.26 365.13L379.55 362.55" style="stroke:#fff;stroke-width:1.05"/><path class="k" d="M379.08 365.96L381.37 363.38" style="stroke:#fff;stroke-width:1.05"/><path class="k" d="M380.9 366.8L383.19 364.22" style="stroke:#fff;stroke-width:1.05"/><path class="k" d="M382.71 367.63L385 365.05" style="stroke:#fff;stroke-width:1.05"/><path class="k" d="M384.53 368.47L386.82 365.89" style="stroke:#fff;stroke-width:1.05"/><path class="k" d="M386.35 369.31L388.64 366.72" style="stroke:#fff;stroke-width:1.05"/><path class="k" d="M388.17 370.14L390.45 367.56" style="stroke:#fff;stroke-width:1.05"/><g transform="translate(444 394) rotate(24.7)"><ellipse class="w" cx="1.2" cy="0" rx="2.6" ry="6.95" style="stroke-width:1.7"/><ellipse class="w" cx="2.6" cy="0" rx="2.2" ry="5.95" style="stroke-width:1"/><path class="w" style="stroke-width:1.3" d="M3.4 -5.15 L10.5 -5.15 Q13 -5.15 13 -1.55 L13 2.58 Q12.5 5.15 10 5.15 L3.4 5.15 Q1.8 0 3.4 -5.15Z"/><path class="k" style="stroke-width:0.9" d="M4.2 -0.77 L11 -0.77 M10.4 -5.15 Q8.8 0 10 5.15"/></g><path class="w" d="M418.06 352.99L470.06 377.49L471.94 373.51L419.94 349.01Z" style="stroke-width:1.35"/><path class="f" d="M418.06 352.99L430.73 358.96L432.6 354.98L419.94 349.01Z" style="fill:#000;stroke:#000;stroke-width:1.2"/><path class="k" d="M418.79 352.73L421.11 350.17" style="stroke:#fff;stroke-width:1.05"/><path class="k" d="M420.38 353.47L422.69 350.91" style="stroke:#fff;stroke-width:1.05"/><path class="k" d="M421.96 354.22L424.27 351.66" style="stroke:#fff;stroke-width:1.05"/><path class="k" d="M423.54 354.96L425.85 352.41" style="stroke:#fff;stroke-width:1.05"/><path class="k" d="M425.13 355.71L427.44 353.15" style="stroke:#fff;stroke-width:1.05"/><path class="k" d="M426.71 356.46L429.02 353.9" style="stroke:#fff;stroke-width:1.05"/><path class="k" d="M428.29 357.2L430.6 354.64" style="stroke:#fff;stroke-width:1.05"/><path class="k" d="M429.88 357.95L432.19 355.39" style="stroke:#fff;stroke-width:1.05"/><g transform="translate(471 375.5) rotate(25.23)"><ellipse class="w" cx="1.2" cy="0" rx="2.6" ry="6.95" style="stroke-width:1.7"/><ellipse class="w" cx="2.6" cy="0" rx="2.2" ry="5.95" style="stroke-width:1"/><path class="w" style="stroke-width:1.3" d="M3.4 -5.15 L10.5 -5.15 Q13 -5.15 13 -1.55 L13 2.58 Q12.5 5.15 10 5.15 L3.4 5.15 Q1.8 0 3.4 -5.15Z"/><path class="k" style="stroke-width:0.9" d="M4.2 -0.77 L11 -0.77 M10.4 -5.15 Q8.8 0 10 5.15"/></g><path class="w" d="M419.1 282.01L489.1 313.51L490.9 309.49L420.9 277.99Z" style="stroke-width:1.35"/><path class="f" d="M419.1 282.01L433.69 288.57L435.49 284.56L420.9 277.99Z" style="fill:#000;stroke:#000;stroke-width:1.2"/><path class="k" d="M419.96 281.79L422.23 279.19" style="stroke:#fff;stroke-width:1.05"/><path class="k" d="M421.79 282.61L424.05 280.01" style="stroke:#fff;stroke-width:1.05"/><path class="k" d="M423.61 283.43L425.88 280.83" style="stroke:#fff;stroke-width:1.05"/><path class="k" d="M425.43 284.25L427.7 281.66" style="stroke:#fff;stroke-width:1.05"/><path class="k" d="M427.26 285.07L429.52 282.48" style="stroke:#fff;stroke-width:1.05"/><path class="k" d="M429.08 285.9L431.35 283.3" style="stroke:#fff;stroke-width:1.05"/><path class="k" d="M430.9 286.72L433.17 284.12" style="stroke:#fff;stroke-width:1.05"/><path class="k" d="M432.73 287.54L434.99 284.94" style="stroke:#fff;stroke-width:1.05"/><g transform="translate(490 311.5) rotate(24.23)"><ellipse class="w" cx="1.2" cy="0" rx="2.6" ry="6.95" style="stroke-width:1.7"/><ellipse class="w" cx="2.6" cy="0" rx="2.2" ry="5.95" style="stroke-width:1"/><path class="w" style="stroke-width:1.3" d="M3.4 -5.15 L10.5 -5.15 Q13 -5.15 13 -1.55 L13 2.58 Q12.5 5.15 10 5.15 L3.4 5.15 Q1.8 0 3.4 -5.15Z"/><path class="k" style="stroke-width:0.9" d="M4.2 -0.77 L11 -0.77 M10.4 -5.15 Q8.8 0 10 5.15"/></g><path class="w" d="M762.1 318.26L897.1 379.01L898.9 374.99L763.9 314.24Z" style="stroke-width:1.35"/><path class="f" d="M762.1 318.26L777.6 325.23L779.41 321.22L763.9 314.24Z" style="fill:#000;stroke:#000;stroke-width:1.2"/><path class="k" d="M763.03 318.07L765.3 315.47" style="stroke:#fff;stroke-width:1.05"/><path class="k" d="M764.97 318.94L767.23 316.35" style="stroke:#fff;stroke-width:1.05"/><path class="k" d="M766.91 319.82L769.17 317.22" style="stroke:#fff;stroke-width:1.05"/><path class="k" d="M768.84 320.69L771.11 318.09" style="stroke:#fff;stroke-width:1.05"/><path class="k" d="M770.78 321.56L773.05 318.96" style="stroke:#fff;stroke-width:1.05"/><path class="k" d="M772.72 322.43L774.98 319.83" style="stroke:#fff;stroke-width:1.05"/><path class="k" d="M774.66 323.3L776.92 320.71" style="stroke:#fff;stroke-width:1.05"/><path class="k" d="M776.59 324.18L778.86 321.58" style="stroke:#fff;stroke-width:1.05"/><g transform="translate(898 377) rotate(24.23)"><ellipse class="w" cx="1.2" cy="0" rx="2.6" ry="6.45" style="stroke-width:1.7"/><ellipse class="w" cx="2.6" cy="0" rx="2.2" ry="5.45" style="stroke-width:1"/><path class="w" style="stroke-width:1.3" d="M3.4 -4.65 L9.5 -4.65 Q12 -4.65 12 -1.4 L12 2.33 Q11.5 4.65 9 4.65 L3.4 4.65 Q1.8 0 3.4 -4.65Z"/><path class="k" style="stroke-width:0.9" d="M4.2 -0.7 L10 -0.7 M9.4 -4.65 Q7.8 0 9 4.65"/></g><path class="w" d="M956.38 377.02L1080.13 430.52L1081.87 426.48L958.12 372.98Z" style="stroke-width:1.35"/><path class="f" d="M956.38 377.02L975.65 385.35L977.4 381.31L958.12 372.98Z" style="fill:#000;stroke:#000;stroke-width:1.2"/><path class="k" d="M957.58 376.94L959.81 374.31" style="stroke:#fff;stroke-width:1.05"/><path class="k" d="M959.99 377.98L962.22 375.35" style="stroke:#fff;stroke-width:1.05"/><path class="k" d="M962.4 379.02L964.63 376.39" style="stroke:#fff;stroke-width:1.05"/><path class="k" d="M964.81 380.07L967.04 377.43" style="stroke:#fff;stroke-width:1.05"/><path class="k" d="M967.22 381.11L969.45 378.48" style="stroke:#fff;stroke-width:1.05"/><path class="k" d="M969.63 382.15L971.86 379.52" style="stroke:#fff;stroke-width:1.05"/><path class="k" d="M972.04 383.19L974.27 380.56" style="stroke:#fff;stroke-width:1.05"/><path class="k" d="M974.45 384.23L976.68 381.6" style="stroke:#fff;stroke-width:1.05"/><g transform="translate(1081 428.5) rotate(23.38)"><ellipse class="w" cx="1.2" cy="0" rx="2.6" ry="6.45" style="stroke-width:1.7"/><ellipse class="w" cx="2.6" cy="0" rx="2.2" ry="5.45" style="stroke-width:1"/><path class="w" style="stroke-width:1.3" d="M3.4 -4.65 L9.5 -4.65 Q12 -4.65 12 -1.4 L12 2.33 Q11.5 4.65 9 4.65 L3.4 4.65 Q1.8 0 3.4 -4.65Z"/><path class="k" style="stroke-width:0.9" d="M4.2 -0.7 L10 -0.7 M9.4 -4.65 Q7.8 0 9 4.65"/></g><path class="w" d="M630.32 401.99L702.82 435.99L704.68 432.01L632.18 398.01Z" style="stroke-width:1.35"/><path class="f" d="M630.32 401.99L644.8 408.79L646.67 404.8L632.18 398.01Z" style="fill:#000;stroke:#000;stroke-width:1.2"/><path class="k" d="M631.18 401.79L633.49 399.23" style="stroke:#fff;stroke-width:1.05"/><path class="k" d="M632.99 402.64L635.3 400.08" style="stroke:#fff;stroke-width:1.05"/><path class="k" d="M634.8 403.49L637.11 400.93" style="stroke:#fff;stroke-width:1.05"/><path class="k" d="M636.62 404.34L638.92 401.78" style="stroke:#fff;stroke-width:1.05"/><path class="k" d="M638.43 405.19L640.73 402.62" style="stroke:#fff;stroke-width:1.05"/><path class="k" d="M640.24 406.04L642.54 403.47" style="stroke:#fff;stroke-width:1.05"/><path class="k" d="M642.05 406.89L644.35 404.32" style="stroke:#fff;stroke-width:1.05"/><path class="k" d="M643.86 407.74L646.17 405.17" style="stroke:#fff;stroke-width:1.05"/><g transform="translate(703.75 434) rotate(25.12)"><ellipse class="w" cx="1.2" cy="0" rx="2.6" ry="6.95" style="stroke-width:1.7"/><ellipse class="w" cx="2.6" cy="0" rx="2.2" ry="5.95" style="stroke-width:1"/><path class="w" style="stroke-width:1.3" d="M3.4 -5.15 L10.5 -5.15 Q13 -5.15 13 -1.55 L13 2.58 Q12.5 5.15 10 5.15 L3.4 5.15 Q1.8 0 3.4 -5.15Z"/><path class="k" style="stroke-width:0.9" d="M4.2 -0.77 L11 -0.77 M10.4 -5.15 Q8.8 0 10 5.15"/></g><path class="w" d="M566.52 503.22L579.02 509.47L580.98 505.53L568.48 499.28Z" style="stroke-width:1.35"/><path class="f" d="M566.52 503.22L576.35 508.14L578.32 504.2L568.48 499.28Z" style="fill:#000;stroke:#000;stroke-width:1.2"/><path class="k" d="M567.5 503.09L569.87 500.59" style="stroke:#fff;stroke-width:1.05"/><path class="k" d="M569.46 504.08L571.83 501.57" style="stroke:#fff;stroke-width:1.05"/><path class="k" d="M571.43 505.06L573.8 502.56" style="stroke:#fff;stroke-width:1.05"/><path class="k" d="M573.4 506.04L575.77 503.54" style="stroke:#fff;stroke-width:1.05"/><path class="k" d="M575.37 507.03L577.74 504.52" style="stroke:#fff;stroke-width:1.05"/><g transform="translate(580 507.5) rotate(26.57)"><ellipse class="w" cx="1.2" cy="0" rx="2.6" ry="6.95" style="stroke-width:1.7"/><ellipse class="w" cx="2.6" cy="0" rx="2.2" ry="5.95" style="stroke-width:1"/><path class="w" style="stroke-width:1.3" d="M3.4 -5.15 L10.5 -5.15 Q13 -5.15 13 -1.55 L13 2.58 Q12.5 5.15 10 5.15 L3.4 5.15 Q1.8 0 3.4 -5.15Z"/><path class="k" style="stroke-width:0.9" d="M4.2 -0.77 L11 -0.77 M10.4 -5.15 Q8.8 0 10 5.15"/></g>

<!-- 35_rods.svg -->
<path class="w" d="M425.18 304.88L586.48 377.08L588.52 372.52L427.22 300.32Z" style="stroke-width:1.4"/><ellipse class="w" cx="587.5" cy="374.8" rx="1.5" ry="2.5" transform="rotate(24.11 587.5 374.8)" style="stroke-width:1.3"/><path class="w" d="M435.22 323.9L504.52 353.5L506.48 348.9L437.18 319.3Z" style="stroke-width:1.4"/><ellipse class="w" cx="505.5" cy="351.2" rx="1.5" ry="2.5" transform="rotate(23.13 505.5 351.2)" style="stroke-width:1.3"/><path class="k" d="M551 334L551 354" />

<!-- 40_spools.svg -->
<g transform="translate(354.6 65.5) rotate(19.6)"><path class="w" style="stroke-width:1.5" d="M2.5 -13.3L12 -13.3A7.45 13.3 0 0 1 12 13.3L2.5 13.3A7.45 13.3 0 0 1 2.5 -13.3Z"/><path class="k" style="stroke-width:1.6" d="M4.61 -13.3A7.45 13.3 0 0 0 4.61 13.3"/><path class="k" style="stroke-width:1.6" d="M6.72 -13.3A7.45 13.3 0 0 0 6.72 13.3"/><path class="k" style="stroke-width:1.6" d="M8.83 -13.3A7.45 13.3 0 0 0 8.83 13.3"/><path class="k" style="stroke-width:1.6" d="M10.94 -13.3A7.45 13.3 0 0 0 10.94 13.3"/><ellipse class="w" style="stroke-width:1.5" cx="12" cy="0" rx="7.45" ry="13.3"/><path class="w" style="stroke-width:1.2" d="M12 -7.4L36 -7.4A4.14 7.4 0 0 1 36 7.4L12 7.4A4.14 7.4 0 0 1 12 -7.4Z"/><path class="w" style="stroke-width:1.4" d="M34.5 -10.3L47 -10.3A5.77 10.3 0 0 1 47 10.3L34.5 10.3A5.77 10.3 0 0 1 34.5 -10.3Z"/><path class="k" style="stroke-width:1.6" d="M38.07 -10.3A5.77 10.3 0 0 0 38.07 10.3"/><path class="k" style="stroke-width:1.6" d="M41.64 -10.3A5.77 10.3 0 0 0 41.64 10.3"/><path class="k" style="stroke-width:1.6" d="M45.21 -10.3A5.77 10.3 0 0 0 45.21 10.3"/><ellipse class="w" style="stroke-width:1.4" cx="47" cy="0" rx="5.77" ry="10.3"/><ellipse class="w" style="stroke-width:1.3" cx="47.6" cy="0.3" rx="3.14" ry="5.6"/><path class="k" style="stroke-width:1" d="M45.88 -4.2A2.51 4.76 0 0 0 46.97 5.04"/></g><g transform="translate(398.2 127.3) rotate(23.2)"><path class="w" style="stroke-width:1.5" d="M0 -15.6L8.5 -15.6A8.74 15.6 0 0 1 8.5 15.6L0 15.6A8.74 15.6 0 0 1 0 -15.6Z"/><path class="k" style="stroke-width:1.5" d="M1.89 -15.6A8.74 15.6 0 0 0 1.89 15.6"/><path class="k" style="stroke-width:1.5" d="M3.78 -15.6A8.74 15.6 0 0 0 3.78 15.6"/><path class="k" style="stroke-width:1.5" d="M5.67 -15.6A8.74 15.6 0 0 0 5.67 15.6"/><path class="k" style="stroke-width:1.5" d="M7.56 -15.6A8.74 15.6 0 0 0 7.56 15.6"/><ellipse class="w" style="stroke-width:1.5" cx="8.5" cy="0" rx="8.74" ry="15.6"/><path class="w" style="stroke-width:1.2" d="M8.5 -10.6L13.5 -10.6A5.94 10.6 0 0 1 13.5 10.6L8.5 10.6A5.94 10.6 0 0 1 8.5 -10.6Z"/><ellipse class="w" style="stroke-width:1.2" cx="13.5" cy="0" rx="5.94" ry="10.6"/><path class="w" style="stroke-width:1.4" d="M13.5 -6L113 -6A3.36 6 0 0 1 113 6L13.5 6A3.36 6 0 0 1 13.5 -6Z"/><ellipse class="w" style="stroke-width:1.4" cx="113" cy="0" rx="3.36" ry="6"/><path class="w" style="stroke:none" d="M30 -7.6 L68 -7.6 L68 -3.4 L30 -3.4Z"/><path class="k" d="M30 -6 L31.5 -4.6 L40 -4.6 L41 -3.2 L48 -3.2 L49 -4.6 L57 -4.6 L58.5 -3.2 L66 -3.2 L68 -6"/><ellipse class="f" cx="104.5" cy="-2" rx="1.6" ry="1.1"/><path class="k" d="M109 -6A3.3 6 0 0 0 109 6"/><ellipse class="k" cx="114" cy="0.3" rx="1" ry="1.6" style="stroke-width:0.9"/></g><g transform="translate(760.3 111.1) rotate(22.5)"><path class="w" style="stroke-width:1.5" d="M3.5 -16.2L9.5 -16.2A9.07 16.2 0 0 1 9.5 16.2L3.5 16.2A9.07 16.2 0 0 1 3.5 -16.2Z"/><path class="k" style="stroke-width:1.6" d="M5.9 -16.2A9.07 16.2 0 0 0 5.9 16.2"/><path class="k" style="stroke-width:1.6" d="M8.3 -16.2A9.07 16.2 0 0 0 8.3 16.2"/><ellipse class="w" style="stroke-width:1.5" cx="9.5" cy="0" rx="9.07" ry="16.2"/><path class="w" style="stroke-width:1.2" d="M9.5 -14.9L34 -14.9A8.34 14.9 0 0 1 34 14.9L9.5 14.9A8.34 14.9 0 0 1 9.5 -14.9Z"/><path class="w" style="stroke-width:1.4" d="M33 -17.2L41.5 -17.2A9.63 17.2 0 0 1 41.5 17.2L33 17.2A9.63 17.2 0 0 1 33 -17.2Z"/><ellipse class="w" style="stroke-width:1.4" cx="41.5" cy="0" rx="9.63" ry="17.2"/><ellipse class="w" style="stroke-width:1.3" cx="42.1" cy="0.3" rx="5.77" ry="10.3"/><path class="k" style="stroke-width:1" d="M38.93 -7.73A4.61 8.76 0 0 0 40.95 9.27"/></g><g transform="translate(742.9 207.2) rotate(22.2)"><path class="w" style="stroke-width:1.4" d="M0 -11.6L7 -11.6A6.5 11.6 0 0 1 7 11.6L0 11.6A6.5 11.6 0 0 1 0 -11.6Z"/><path class="k" style="stroke-width:1.5" d="M2 -11.6A6.5 11.6 0 0 0 2 11.6"/><path class="k" style="stroke-width:1.5" d="M4 -11.6A6.5 11.6 0 0 0 4 11.6"/><path class="k" style="stroke-width:1.5" d="M6 -11.6A6.5 11.6 0 0 0 6 11.6"/><ellipse class="w" style="stroke-width:1.4" cx="7" cy="0" rx="6.5" ry="11.6"/><path class="w" style="stroke-width:1.2" d="M7 -10.2L29 -10.2A5.71 10.2 0 0 1 29 10.2L7 10.2A5.71 10.2 0 0 1 7 -10.2Z"/><path class="w" style="stroke-width:1.5" d="M28 -16.3L37 -16.3A9.13 16.3 0 0 1 37 16.3L28 16.3A9.13 16.3 0 0 1 28 -16.3Z"/><path class="k" style="stroke-width:1.8" d="M31.6 -16.3A9.13 16.3 0 0 0 31.6 16.3"/><path class="k" style="stroke-width:1.8" d="M35.2 -16.3A9.13 16.3 0 0 0 35.2 16.3"/><ellipse class="w" style="stroke-width:1.5" cx="37" cy="0" rx="9.13" ry="16.3"/><path class="w" style="stroke-width:1.2" d="M37 -13.2L42 -13.2A7.39 13.2 0 0 1 42 13.2L37 13.2A7.39 13.2 0 0 1 37 -13.2Z"/><path class="w" style="stroke-width:1.2" d="M40 -12.2L69 -12.2A6.83 12.2 0 0 1 69 12.2L40 12.2A6.83 12.2 0 0 1 40 -12.2Z"/><path class="w" style="stroke-width:1.4" d="M68 -14.6L79.5 -14.6A8.18 14.6 0 0 1 79.5 14.6L68 14.6A8.18 14.6 0 0 1 68 -14.6Z"/><path class="k" style="stroke-width:1.7" d="M72.6 -14.6A8.18 14.6 0 0 0 72.6 14.6"/><path class="k" style="stroke-width:1.7" d="M77.2 -14.6A8.18 14.6 0 0 0 77.2 14.6"/><ellipse class="w" style="stroke-width:1.4" cx="79.5" cy="0" rx="8.18" ry="14.6"/><ellipse class="w" style="stroke-width:1.3" cx="80.1" cy="0.3" rx="5.04" ry="9"/><path class="k" style="stroke-width:1" d="M77.33 -6.75A4.03 7.65 0 0 0 79.09 8.1"/></g>

<!-- 50_part7.svg -->
<path class="b" d="M 628.73 88.73 L 566.89 115.85 L 552.24 124.1" /><path class="k" d="M 567.43 116.5 L 568.19 118.67 L 575.03 121.93 L 577.52 120.19 L 577.74 123.01 L 575.03 123.77" /><path class="k" d="M 634.16 95.02 L 577.74 120.19 M 575.03 123.77 L 561.46 129.74" /><path class="b" d="M 628.73 88.73 L 638.5 92.85" /><path class="b" d="M 646.09 105.33 L 651.51 118.89 L 654.77 132.99" /><ellipse class="w" cx="640.45" cy="100.44" rx="5.16" ry="7.16" transform="rotate(18 640.45 100.44)" /><ellipse class="k" cx="641.03" cy="100.44" rx="2.81" ry="3.91" transform="rotate(18 641.03 100.44)" style="stroke-width:1.3"/><ellipse class="k" cx="640.88" cy="100.66" rx="1.63" ry="2.39" transform="rotate(18 640.88 100.66)" /><path class="b" d="M 622.22 106.41 L 615.71 103.7 C 611.37 105.33 609.74 109.12 610.83 113.46 L 612.46 116.72 L 620.05 119.43" /><path class="k" d="M 612.46 116.72 L 610.83 121.93 L 615.71 123.77 L 617.34 118.67" /><ellipse class="w" cx="623.85" cy="112.92" rx="4.69" ry="6.51" transform="rotate(18 623.85 112.92)" /><ellipse class="k" cx="624.37" cy="112.92" rx="2.5" ry="3.47" transform="rotate(18 624.37 112.92)" style="stroke-width:1.3"/><ellipse class="k" cx="624.17" cy="113.14" rx="1.41" ry="2.17" transform="rotate(18 624.17 113.14)" /><ellipse class="w" cx="598.89" cy="117.8" rx="5.16" ry="7.16" transform="rotate(18 598.89 117.8)" /><ellipse class="k" cx="599.45" cy="117.8" rx="2.66" ry="3.69" transform="rotate(18 599.45 117.8)" style="stroke-width:1.3"/><ellipse class="k" cx="599.22" cy="118.02" rx="1.52" ry="2.28" transform="rotate(18 599.22 118.02)" /><path class="k" d="M 604.86 120.19 L 610.83 121.93" /><path class="b" d="M 552.24 124.1 C 549.53 123.01 546.27 123.01 544.1 123.77 L 536.51 129.74 L 532.17 137.33 L 533.04 142.76 L 533.47 151.44" /><path class="k" d="M 536.51 129.74 L 546.27 133.54 L 550.61 128.65 M 546.27 133.54 L 543.02 142.76" /><ellipse class="w" cx="555.82" cy="134.84" rx="5.16" ry="7.16" transform="rotate(18 555.82 134.84)" /><ellipse class="k" cx="556.41" cy="134.84" rx="2.81" ry="3.91" transform="rotate(18 556.41 134.84)" style="stroke-width:1.3"/><ellipse class="k" cx="556.15" cy="135.05" rx="1.52" ry="2.28" transform="rotate(18 556.15 135.05)" /><path class="b" d="M 599.44 124.86 C 594.01 128.65 590.21 135.16 589.67 142.76 C 589.46 149.27 590.76 153.61 593.47 156.86" /><path class="b" d="M 619.29 126.27 L 642.08 138.43" /><path class="k" d="M 624.72 120.85 L 640.99 127.9" /><path class="b" d="M 633.4 122.48 L 637.74 119.76 L 680.05 139.08" /><path class="k" d="M 633.4 122.48 L 642.08 127.9 M 642.08 133.33 L 668.12 145.26" /><path class="k" d="M 631.77 131.16 L 636.11 128.44 L 640.45 129.53 L 641.54 134.41 M 634.48 131.7 L 637.74 130.07 L 638.82 133.33" /><path class="k" d="M 611.16 137.67 C 608.44 139.29 607.36 143.63 607.9 145.8 L 625.8 154.48 L 629.6 146.35 Z" /><path class="b" d="M 629.06 170.76 C 626.35 164.25 626.35 158.82 627.43 155.57 C 626.89 147.97 633.4 140.38 642.08 138.75 C 648.59 139.29 652.93 143.63 655.1 152.86 C 657.27 151.23 663.78 147.43 670.29 145.8 L 674.08 140.92 C 675.71 137.67 681.14 138.75 681.68 142.55 L 680.59 147.43 C 682.22 151.23 682.22 158.82 680.59 169.89" /><ellipse class="w" cx="676.8" cy="143.09" rx="3.28" ry="4.56" transform="rotate(18 676.8 143.09)" /><ellipse class="k" cx="677.19" cy="143.09" rx="1.87" ry="2.6" transform="rotate(18 677.19 143.09)" style="stroke-width:1.3"/><ellipse class="b" cx="640.5" cy="159.5" rx="11.3" ry="18" transform="rotate(18 640.5 159.5)" style="stroke-width:1.9"/><ellipse class="b" cx="667.5" cy="165.2" rx="11.3" ry="17.5" transform="rotate(18 667.5 165.2)" style="stroke-width:1.9"/><path class="k" d="M 590 151.01 L 622.55 164.79" /><path class="b" d="M 680.59 150 C 681.14 158.68 680.05 169.53 675.71 178.75 C 672.46 185.8 665.95 189.6 662.69 187.97 L 660.52 193.4 L 656.72 195.57 L 652.38 194.48 L 651.84 189.06 L 649.13 186.89" /><ellipse class="b" cx="622.3" cy="190.8" rx="8.3" ry="13.3" transform="rotate(18 622.3 190.8)" style="stroke-width:1.8"/><path class="b" d="M 630.69 182.55 C 626.89 177.67 617.12 178.21 613 184.72 C 610.07 189.6 609.53 195.57 610.94 200.12 L 606.27 200.99 C 603.02 198.82 600.31 200.99 599.22 204.25 L 594.34 206.42 M 610.94 200.12 C 613.33 205.33 619.29 206.96 624.72 204.79" /><path class="b" d="M 624.72 155.42 L 622.55 164.1 L 619.29 165.19 C 614.41 165.19 611.7 171.7 614.41 175.17 L 615.5 178.43" /><ellipse class="w" cx="617.12" cy="170.61" rx="2.34" ry="3.25" transform="rotate(18 617.12 170.61)" /><ellipse class="w" cx="649.67" cy="182.01" rx="2.19" ry="3.04" transform="rotate(18 649.67 182.01)" /><ellipse class="f" cx="656.72" cy="189.06" rx="1.74" ry="2.6" transform="rotate(18 656.72 189.06)" /><ellipse class="w" cx="656.72" cy="189.06" rx="0.65" ry="1.08" transform="rotate(18 656.72 189.06)" /><ellipse class="w" cx="603.02" cy="204.25" rx="2.34" ry="3.25" transform="rotate(18 603.02 204.25)" /><path class="f" d="M 633.4 182.01 L 637.74 181.46 L 638.28 185.8 L 633.94 186.89 Z" /><path class="k" d="M 637.74 185.8 L 650.76 191.77 L 652.38 194.48 M 633.94 186.89 L 633.4 192.86 L 638.82 190.14 M 637.74 181.46 L 643.71 178.21 L 645.33 183.63 L 651.84 186.89" /><path class="k" d="M 590 153.25 L 622.55 166.27 M 596.51 169.53 L 614.95 177.12 M 590 185.8 L 607.9 194.48" /><path class="k" d="M 590 159.76 L 595.42 160.85 L 594.34 170.61 C 593.25 176.04 591.08 178.21 587.83 178.43" /><path class="b" d="M 532.55 137.59 L 533.09 147.36 L 537.43 149.53 L 536.35 154.41 L 530.92 153.33 L 521.7 164.72 L 520.07 170.14 L 514.1 189.89" /><path class="b" d="M 541.77 138.68 C 540.14 144.1 538.52 149.53 540.14 153.33 C 540.69 157.12 535.8 161.46 531.46 165.26 L 535.8 166.35" /><path class="k" d="M 532.55 137.59 L 534.72 133.25 L 547.74 132.17 M 533.63 138.68 L 540.14 140.85" /><path class="b" d="M 535.8 166.35 L 540.14 162.01 L 569.44 175.57 L 567.81 178.82 L 535.8 166.35" /><path class="b" d="M 546.65 162.55 L 575.95 150.07 L 579.74 146.82 L 583.54 147.9" /><path class="k" d="M 554.25 166.35 L 572.69 158.43 L 586.8 163.63" /><path class="b" d="M 575.95 150.07 L 612.83 165.8 M 583.54 147.9 L 620 163.63" /><path class="b" d="M 572.69 158.43 L 573.78 170.14 C 578.12 173.4 586.8 174.48 592.22 171.23 L 594.93 159.29" /><path class="k" d="M 579.74 157.12 C 583.54 155.5 591.14 156.58 594.93 159.29 C 594.39 162.55 591.14 164.72 586.8 163.63" /><ellipse class="k" cx="586.25" cy="159.51" rx="2.17" ry="1.3" transform="rotate(10 586.25 159.51)" /><path class="k" d="M 592.22 171.23 L 590.05 177.74 L 586.8 185.33 M 573.78 170.14 L 569.44 173.4 M 593.31 170.14 L 611.75 176.65" /><path class="b" d="M 520.07 171.23 L 537.97 177.74 C 540.14 180.99 541.23 185.33 541.23 189.89" /><path class="t" d="M 521.7 172.53 L 536.89 179.04" /><ellipse class="w" cx="617.72" cy="170.69" rx="3.44" ry="4.77" transform="rotate(18 617.72 170.69)" /><ellipse class="k" cx="618.11" cy="170.69" rx="1.87" ry="2.6" transform="rotate(18 618.11 170.69)" style="stroke-width:1.3"/><ellipse class="w" cx="572.69" cy="188.04" rx="3.12" ry="4.34" transform="rotate(18 572.69 188.04)" /><ellipse class="k" cx="573.05" cy="188.04" rx="1.72" ry="2.39" transform="rotate(18 573.05 188.04)" style="stroke-width:1.3"/><path class="b" d="M 517.36 180 L 510.85 203.87 L 514.1 206.58 L 514.65 224.48 L 520.07 228.28 L 537.43 233.16 C 540.14 233.71 542.31 232.08 543.4 228.82 C 552.08 227.74 560.76 224.48 566.18 220.14 L 569.44 221.23" /><path class="k" d="M 514.1 206.58 L 531.46 221.23 M 515.19 211.46 L 529.29 227.74 L 531.46 221.23 C 532.55 217.97 535.8 216.35 537.97 216.89" /><ellipse class="w" cx="539.06" cy="227.2" rx="4.37" ry="6.08" transform="rotate(18 539.06 227.2)" /><ellipse class="k" cx="539.55" cy="227.2" rx="2.34" ry="3.25" transform="rotate(18 539.55 227.2)" style="stroke-width:1.3"/><ellipse class="k" cx="539.38" cy="227.41" rx="1.3" ry="2.06" transform="rotate(18 539.38 227.41)" /><path class="b" d="M 510.85 203.87 L 522.78 208.21 L 525.5 199.53 L 535.8 203.33" /><path class="k" d="M 514.1 206.58 L 524.95 210.92" /><ellipse class="w" cx="530.92" cy="208.75" rx="4.37" ry="6.08" transform="rotate(18 530.92 208.75)" /><ellipse class="k" cx="531.38" cy="208.75" rx="2.19" ry="3.04" transform="rotate(18 531.38 208.75)" style="stroke-width:1.3"/><path class="b" d="M 536.89 206.58 L 550.99 211.46 M 535.8 215.8 L 549.91 221.23" /><ellipse class="w" cx="553.71" cy="215.26" rx="3.91" ry="5.42" transform="rotate(18 553.71 215.26)" /><ellipse class="k" cx="554.16" cy="215.26" rx="2.19" ry="3.04" transform="rotate(18 554.16 215.26)" style="stroke-width:1.3"/><ellipse class="f" cx="553.92" cy="215.48" rx="1.19" ry="1.95" transform="rotate(18 553.92 215.48)" /><path class="b" d="M 536.89 180 C 540.69 184.34 540.69 188.68 539.06 193.02 L 535.8 203.87" /><path class="k" d="M 545.57 185.42 L 542.86 194.1 L 540.14 204.95" /><path class="b" d="M 549.37 192.48 L 546.65 202.78 L 568.35 212.55 L 570.52 201.7 Z" /><path class="k" d="M 551.54 191.39 L 574.86 200.61 L 575.95 198.99 M 549.37 192.48 L 551.54 191.39" /><path class="b" d="M 568.35 212.55 L 569.44 213.63 L 580.83 219.06 M 547.74 205.5 L 579.2 221.77 L 582.46 225.03 L 592.22 221.77 L 593.31 215.8" /><path class="k" d="M 566.18 204.09 C 564.01 204.09 563.47 206.58 565.64 207.12" /><ellipse class="k" cx="572.15" cy="207.12" rx="1.08" ry="2.82" transform="rotate(12 572.15 207.12)" style="stroke-width:1.4"/><ellipse class="w" cx="572.69" cy="190.31" rx="3.91" ry="5.42" transform="rotate(18 572.69 190.31)" /><ellipse class="k" cx="573.15" cy="190.31" rx="2.19" ry="3.04" transform="rotate(18 573.15 190.31)" style="stroke-width:1.3"/><path class="b" d="M 577.57 190.85 C 579.74 194.1 579.2 197.36 580.83 199.53 C 584.63 197.36 590.05 198.44 592.22 203.33 C 592.76 205.5 594.39 206.58 596.56 205.5 C 597.65 202.24 600.9 200.07 604.16 200.61 C 606.87 201.16 607.41 204.95 605.78 208.21 C 604.16 210.92 600.36 210.92 598.19 209.29 C 595.48 210.38 593.31 211.46 592.22 212.55 L 593.31 215.8" /><path class="b" d="M 587.88 203.33 C 584.63 201.16 580.29 203.33 579.2 208.21 C 578.66 212.55 580.83 215.8 584.63 215.26 L 586.8 213.63" style="stroke-width:1.8"/><ellipse class="w" cx="602.53" cy="204.74" rx="2.34" ry="3.25" transform="rotate(18 602.53 204.74)" /><path class="k" d="M 585.17 219.6 L 590.05 217.43 L 590.59 219.6 L 585.71 221.77 Z" /><path class="b" d="M 620 182.17 C 615 183.25 612.83 187.59 611.75 191.93 L 608.5 195.19 L 595.48 203.33" /><path class="k" d="M 575.95 186.51 L 588.97 190.85 L 590.05 180 M 607.41 194.1 L 578.12 181.63" />

<!-- 51_part7x.svg -->
<path class="t" d="M 632.31 156.11 L 650.76 163.71" /><path class="t" d="M 633.4 156.51 L 689.82 182.55" /><path class="b" d="M 657.27 164.1 L 678.97 173.33" /><path class="t" d="M 616.04 189.06 L 636.65 197.74" />

<!-- 52_mainbody.svg -->
<g transform="translate(-266.5 157)"><path class="b" d="M 628.73 88.73 L 566.89 115.85 L 552.24 124.1" /><path class="k" d="M 567.43 116.5 L 568.19 118.67 L 575.03 121.93 L 577.52 120.19 L 577.74 123.01 L 575.03 123.77" /><path class="k" d="M 634.16 95.02 L 577.74 120.19 M 575.03 123.77 L 561.46 129.74" /><path class="b" d="M 628.73 88.73 L 638.5 92.85" /><path class="b" d="M 646.09 105.33 L 651.51 118.89 L 654.77 132.99" /><ellipse class="w" cx="640.45" cy="100.44" rx="5.16" ry="7.16" transform="rotate(18 640.45 100.44)" /><ellipse class="k" cx="641.03" cy="100.44" rx="2.81" ry="3.91" transform="rotate(18 641.03 100.44)" style="stroke-width:1.3"/><ellipse class="k" cx="640.88" cy="100.66" rx="1.63" ry="2.39" transform="rotate(18 640.88 100.66)" /><path class="b" d="M 622.22 106.41 L 615.71 103.7 C 611.37 105.33 609.74 109.12 610.83 113.46 L 612.46 116.72 L 620.05 119.43" /><path class="k" d="M 612.46 116.72 L 610.83 121.93 L 615.71 123.77 L 617.34 118.67" /><ellipse class="w" cx="623.85" cy="112.92" rx="4.69" ry="6.51" transform="rotate(18 623.85 112.92)" /><ellipse class="k" cx="624.37" cy="112.92" rx="2.5" ry="3.47" transform="rotate(18 624.37 112.92)" style="stroke-width:1.3"/><ellipse class="k" cx="624.17" cy="113.14" rx="1.41" ry="2.17" transform="rotate(18 624.17 113.14)" /><ellipse class="w" cx="598.89" cy="117.8" rx="5.16" ry="7.16" transform="rotate(18 598.89 117.8)" /><ellipse class="k" cx="599.45" cy="117.8" rx="2.66" ry="3.69" transform="rotate(18 599.45 117.8)" style="stroke-width:1.3"/><ellipse class="k" cx="599.22" cy="118.02" rx="1.52" ry="2.28" transform="rotate(18 599.22 118.02)" /><path class="k" d="M 604.86 120.19 L 610.83 121.93" /><path class="b" d="M 552.24 124.1 C 549.53 123.01 546.27 123.01 544.1 123.77 L 536.51 129.74 L 532.17 137.33 L 533.04 142.76 L 533.47 151.44" /><path class="k" d="M 536.51 129.74 L 546.27 133.54 L 550.61 128.65 M 546.27 133.54 L 543.02 142.76" /><ellipse class="w" cx="555.82" cy="134.84" rx="5.16" ry="7.16" transform="rotate(18 555.82 134.84)" /><ellipse class="k" cx="556.41" cy="134.84" rx="2.81" ry="3.91" transform="rotate(18 556.41 134.84)" style="stroke-width:1.3"/><ellipse class="k" cx="556.15" cy="135.05" rx="1.52" ry="2.28" transform="rotate(18 556.15 135.05)" /><path class="b" d="M 599.44 124.86 C 594.01 128.65 590.21 135.16 589.67 142.76 C 589.46 149.27 590.76 153.61 593.47 156.86" /><path class="b" d="M 619.29 126.27 L 642.08 138.43" /><path class="k" d="M 624.72 120.85 L 640.99 127.9" /><path class="b" d="M 633.4 122.48 L 637.74 119.76 L 680.05 139.08" /><path class="k" d="M 633.4 122.48 L 642.08 127.9 M 642.08 133.33 L 668.12 145.26" /><path class="k" d="M 631.77 131.16 L 636.11 128.44 L 640.45 129.53 L 641.54 134.41 M 634.48 131.7 L 637.74 130.07 L 638.82 133.33" /><path class="k" d="M 611.16 137.67 C 608.44 139.29 607.36 143.63 607.9 145.8 L 625.8 154.48 L 629.6 146.35 Z" /><path class="b" d="M 629.06 170.76 C 626.35 164.25 626.35 158.82 627.43 155.57 C 626.89 147.97 633.4 140.38 642.08 138.75 C 648.59 139.29 652.93 143.63 655.1 152.86 C 657.27 151.23 663.78 147.43 670.29 145.8 L 674.08 140.92 C 675.71 137.67 681.14 138.75 681.68 142.55 L 680.59 147.43 C 682.22 151.23 682.22 158.82 680.59 169.89" /><ellipse class="w" cx="676.8" cy="143.09" rx="3.28" ry="4.56" transform="rotate(18 676.8 143.09)" /><ellipse class="k" cx="677.19" cy="143.09" rx="1.87" ry="2.6" transform="rotate(18 677.19 143.09)" style="stroke-width:1.3"/><ellipse class="b" cx="640.5" cy="159.5" rx="11.3" ry="18" transform="rotate(18 640.5 159.5)" style="stroke-width:1.9"/><ellipse class="b" cx="667.5" cy="165.2" rx="11.3" ry="17.5" transform="rotate(18 667.5 165.2)" style="stroke-width:1.9"/><path class="k" d="M 590 151.01 L 622.55 164.79" /><path class="b" d="M 680.59 150 C 681.14 158.68 680.05 169.53 675.71 178.75 C 672.46 185.8 665.95 189.6 662.69 187.97 L 660.52 193.4 L 656.72 195.57 L 652.38 194.48 L 651.84 189.06 L 649.13 186.89" /><ellipse class="b" cx="622.3" cy="190.8" rx="8.3" ry="13.3" transform="rotate(18 622.3 190.8)" style="stroke-width:1.8"/><path class="b" d="M 630.69 182.55 C 626.89 177.67 617.12 178.21 613 184.72 C 610.07 189.6 609.53 195.57 610.94 200.12 L 606.27 200.99 C 603.02 198.82 600.31 200.99 599.22 204.25 L 594.34 206.42 M 610.94 200.12 C 613.33 205.33 619.29 206.96 624.72 204.79" /><path class="b" d="M 624.72 155.42 L 622.55 164.1 L 619.29 165.19 C 614.41 165.19 611.7 171.7 614.41 175.17 L 615.5 178.43" /><ellipse class="w" cx="617.12" cy="170.61" rx="2.34" ry="3.25" transform="rotate(18 617.12 170.61)" /><ellipse class="w" cx="649.67" cy="182.01" rx="2.19" ry="3.04" transform="rotate(18 649.67 182.01)" /><ellipse class="f" cx="656.72" cy="189.06" rx="1.74" ry="2.6" transform="rotate(18 656.72 189.06)" /><ellipse class="w" cx="656.72" cy="189.06" rx="0.65" ry="1.08" transform="rotate(18 656.72 189.06)" /><ellipse class="w" cx="603.02" cy="204.25" rx="2.34" ry="3.25" transform="rotate(18 603.02 204.25)" /><path class="f" d="M 633.4 182.01 L 637.74 181.46 L 638.28 185.8 L 633.94 186.89 Z" /><path class="k" d="M 637.74 185.8 L 650.76 191.77 L 652.38 194.48 M 633.94 186.89 L 633.4 192.86 L 638.82 190.14 M 637.74 181.46 L 643.71 178.21 L 645.33 183.63 L 651.84 186.89" /><path class="k" d="M 590 153.25 L 622.55 166.27 M 596.51 169.53 L 614.95 177.12 M 590 185.8 L 607.9 194.48" /><path class="k" d="M 590 159.76 L 595.42 160.85 L 594.34 170.61 C 593.25 176.04 591.08 178.21 587.83 178.43" /><path class="b" d="M 532.55 137.59 L 533.09 147.36 L 537.43 149.53 L 536.35 154.41 L 530.92 153.33 L 521.7 164.72 L 520.07 170.14 L 514.1 189.89" /><path class="b" d="M 541.77 138.68 C 540.14 144.1 538.52 149.53 540.14 153.33 C 540.69 157.12 535.8 161.46 531.46 165.26 L 535.8 166.35" /><path class="k" d="M 532.55 137.59 L 534.72 133.25 L 547.74 132.17 M 533.63 138.68 L 540.14 140.85" /><path class="b" d="M 535.8 166.35 L 540.14 162.01 L 569.44 175.57 L 567.81 178.82 L 535.8 166.35" /><path class="b" d="M 546.65 162.55 L 575.95 150.07 L 579.74 146.82 L 583.54 147.9" /><path class="k" d="M 554.25 166.35 L 572.69 158.43 L 586.8 163.63" /><path class="b" d="M 575.95 150.07 L 612.83 165.8 M 583.54 147.9 L 620 163.63" /><path class="b" d="M 572.69 158.43 L 573.78 170.14 C 578.12 173.4 586.8 174.48 592.22 171.23 L 594.93 159.29" /><path class="k" d="M 579.74 157.12 C 583.54 155.5 591.14 156.58 594.93 159.29 C 594.39 162.55 591.14 164.72 586.8 163.63" /><ellipse class="k" cx="586.25" cy="159.51" rx="2.17" ry="1.3" transform="rotate(10 586.25 159.51)" /><path class="k" d="M 592.22 171.23 L 590.05 177.74 L 586.8 185.33 M 573.78 170.14 L 569.44 173.4 M 593.31 170.14 L 611.75 176.65" /><path class="b" d="M 520.07 171.23 L 537.97 177.74 C 540.14 180.99 541.23 185.33 541.23 189.89" /><path class="t" d="M 521.7 172.53 L 536.89 179.04" /><ellipse class="w" cx="617.72" cy="170.69" rx="3.44" ry="4.77" transform="rotate(18 617.72 170.69)" /><ellipse class="k" cx="618.11" cy="170.69" rx="1.87" ry="2.6" transform="rotate(18 618.11 170.69)" style="stroke-width:1.3"/><ellipse class="w" cx="572.69" cy="188.04" rx="3.12" ry="4.34" transform="rotate(18 572.69 188.04)" /><ellipse class="k" cx="573.05" cy="188.04" rx="1.72" ry="2.39" transform="rotate(18 573.05 188.04)" style="stroke-width:1.3"/><path class="b" d="M 517.36 180 L 510.85 203.87 L 514.1 206.58 L 514.65 224.48 L 520.07 228.28 L 537.43 233.16 C 540.14 233.71 542.31 232.08 543.4 228.82 C 552.08 227.74 560.76 224.48 566.18 220.14 L 569.44 221.23" /><path class="k" d="M 514.1 206.58 L 531.46 221.23 M 515.19 211.46 L 529.29 227.74 L 531.46 221.23 C 532.55 217.97 535.8 216.35 537.97 216.89" /><ellipse class="w" cx="539.06" cy="227.2" rx="4.37" ry="6.08" transform="rotate(18 539.06 227.2)" /><ellipse class="k" cx="539.55" cy="227.2" rx="2.34" ry="3.25" transform="rotate(18 539.55 227.2)" style="stroke-width:1.3"/><ellipse class="k" cx="539.38" cy="227.41" rx="1.3" ry="2.06" transform="rotate(18 539.38 227.41)" /><path class="b" d="M 510.85 203.87 L 522.78 208.21 L 525.5 199.53 L 535.8 203.33" /><path class="k" d="M 514.1 206.58 L 524.95 210.92" /><ellipse class="w" cx="530.92" cy="208.75" rx="4.37" ry="6.08" transform="rotate(18 530.92 208.75)" /><ellipse class="k" cx="531.38" cy="208.75" rx="2.19" ry="3.04" transform="rotate(18 531.38 208.75)" style="stroke-width:1.3"/><path class="b" d="M 536.89 206.58 L 550.99 211.46 M 535.8 215.8 L 549.91 221.23" /><ellipse class="w" cx="553.71" cy="215.26" rx="3.91" ry="5.42" transform="rotate(18 553.71 215.26)" /><ellipse class="k" cx="554.16" cy="215.26" rx="2.19" ry="3.04" transform="rotate(18 554.16 215.26)" style="stroke-width:1.3"/><ellipse class="f" cx="553.92" cy="215.48" rx="1.19" ry="1.95" transform="rotate(18 553.92 215.48)" /><path class="b" d="M 536.89 180 C 540.69 184.34 540.69 188.68 539.06 193.02 L 535.8 203.87" /><path class="k" d="M 545.57 185.42 L 542.86 194.1 L 540.14 204.95" /><path class="b" d="M 549.37 192.48 L 546.65 202.78 L 568.35 212.55 L 570.52 201.7 Z" /><path class="k" d="M 551.54 191.39 L 574.86 200.61 L 575.95 198.99 M 549.37 192.48 L 551.54 191.39" /><path class="b" d="M 568.35 212.55 L 569.44 213.63 L 580.83 219.06 M 547.74 205.5 L 579.2 221.77 L 582.46 225.03 L 592.22 221.77 L 593.31 215.8" /><path class="k" d="M 566.18 204.09 C 564.01 204.09 563.47 206.58 565.64 207.12" /><ellipse class="k" cx="572.15" cy="207.12" rx="1.08" ry="2.82" transform="rotate(12 572.15 207.12)" style="stroke-width:1.4"/><ellipse class="w" cx="572.69" cy="190.31" rx="3.91" ry="5.42" transform="rotate(18 572.69 190.31)" /><ellipse class="k" cx="573.15" cy="190.31" rx="2.19" ry="3.04" transform="rotate(18 573.15 190.31)" style="stroke-width:1.3"/><path class="b" d="M 577.57 190.85 C 579.74 194.1 579.2 197.36 580.83 199.53 C 584.63 197.36 590.05 198.44 592.22 203.33 C 592.76 205.5 594.39 206.58 596.56 205.5 C 597.65 202.24 600.9 200.07 604.16 200.61 C 606.87 201.16 607.41 204.95 605.78 208.21 C 604.16 210.92 600.36 210.92 598.19 209.29 C 595.48 210.38 593.31 211.46 592.22 212.55 L 593.31 215.8" /><path class="b" d="M 587.88 203.33 C 584.63 201.16 580.29 203.33 579.2 208.21 C 578.66 212.55 580.83 215.8 584.63 215.26 L 586.8 213.63" style="stroke-width:1.8"/><ellipse class="w" cx="602.53" cy="204.74" rx="2.34" ry="3.25" transform="rotate(18 602.53 204.74)" /><path class="k" d="M 585.17 219.6 L 590.05 217.43 L 590.59 219.6 L 585.71 221.77 Z" /><path class="b" d="M 620 182.17 C 615 183.25 612.83 187.59 611.75 191.93 L 608.5 195.19 L 595.48 203.33" /><path class="k" d="M 575.95 186.51 L 588.97 190.85 L 590.05 180 M 607.41 194.1 L 578.12 181.63" /></g>

<!-- 53_mbface.svg -->
<path class="k" d="M 353.38 292.21 L 373.73 289.77 L 388.38 294.65 L 417.69 293.03 L 419.32 348.38 L 396.52 356.52 L 368.84 367.92 L 339.54 368.73 L 328.95 361.41 L 341.17 328.84 L 352.56 319.08 Z" style="fill:#fff;stroke:none"/><path class="b" d="M 320 306.86 L 355 322.66 M 344.42 283.26 L 373.73 295.96" /><ellipse class="w" cx="370.15" cy="314.52" rx="14" ry="20.51" transform="rotate(18 370.15 314.52)" style="stroke-width:1.6"/><ellipse class="w" cx="397.82" cy="322.82" rx="14" ry="20.51" transform="rotate(18 397.82 322.82)" style="stroke-width:1.6"/><ellipse class="w" cx="371.12" cy="314.84" rx="10.75" ry="15.96" transform="rotate(18 371.12 314.84)" style="stroke-width:1.7"/><ellipse class="w" cx="398.48" cy="323.31" rx="10.42" ry="15.96" transform="rotate(18 398.48 323.31)" style="stroke-width:1.7"/><path class="b" d="M 403.03 304.42 L 405.48 297.1 L 411.99 296.28 L 413.62 300.35 L 411.18 306.05" style="fill:#fff"/><ellipse class="k" cx="408.73" cy="301.17" rx="1.79" ry="2.77" transform="rotate(18 408.73 301.17)" style="stroke-width:1.3"/><path class="b" d="M 346.86 326.4 C 346.05 323.15 350.12 321.52 353.38 323.15 L 356.63 327.22 L 367.22 336.17 L 375.36 335.36 L 377.8 341.06 L 385.13 344.31 L 386.75 350.01 L 392.45 350.01 L 396.52 344.31 M 367.22 336.17 C 368.84 345.13 366.4 356.52 357.45 363.85 C 350.93 366.29 344.42 363.03 342.79 356.52 L 337.91 357.34 C 333.84 356.52 331.4 359.78 332.21 363.03 C 333.84 366.29 337.91 366.29 340.35 363.03 M 342.79 356.52 C 341.17 348.38 344.42 336.98 349.31 333.73 L 346.86 326.4" style="fill:#fff"/><ellipse class="w" cx="354.19" cy="348.71" rx="10.75" ry="15.47" transform="rotate(18 354.19 348.71)" style="stroke-width:1.5"/><ellipse class="w" cx="354.52" cy="349.03" rx="8.14" ry="12.05" transform="rotate(18 354.52 349.03)" style="stroke-width:1.7"/><ellipse class="k" cx="350.12" cy="327.54" rx="1.95" ry="2.77" transform="rotate(18 350.12 327.54)" style="stroke-width:1.3"/><ellipse class="k" cx="335.79" cy="360.92" rx="1.95" ry="2.77" transform="rotate(18 335.79 360.92)" style="stroke-width:1.3"/><ellipse class="w" cx="381.06" cy="338.94" rx="1.95" ry="2.93" transform="rotate(18 381.06 338.94)" style="stroke-width:1.5"/><ellipse class="w" cx="389.2" cy="345.94" rx="1.95" ry="2.93" transform="rotate(18 389.2 345.94)" style="stroke-width:1.5"/><path class="k" d="M 353.05 330.8 L 354.68 328.03 L 356.14 330.8 Z" style="stroke-width:1"/><path class="k" d="M 367.22 336.17 L 368.84 343.5 L 377.8 346.75 M 368.84 343.5 L 367.22 351.64 L 373.73 348.38" /><path class="k" d="M 373.73 292.21 L 426.15 316.14 M 355 320.7 L 398.15 340.57 M 359.89 327.22 L 370.47 332.1" /><path class="k" d="M 397.82 340.57 L 419.32 350.34 M 368.84 356.52 L 375.36 359.78" /><ellipse class="w" cx="316.3" cy="365" rx="9.6" ry="13.2" transform="rotate(18 316.3 365)" style="stroke-width:1.5"/><ellipse class="w" cx="316.6" cy="365.2" rx="7" ry="10" transform="rotate(18 316.6 365.2)" style="stroke-width:1.7"/>

<!-- 54_axes.svg -->
<path class="k" d="M374.6 257.9L420 280" /><path class="k" d="M357 270.4L426.2 302.6" /><path class="k" d="M289.3 291.8L353 320" /><path class="k" d="M272.5 384.2L302.7 397.5" /><path class="k" d="M344 245L352.5 248.75" /><path class="k" d="M262.5 278.75L270 282.5" /><path class="k" d="M238.75 368.75L245 371.25" /><path class="k" d="M398 305.5L435.5 321.3" />

<!-- 55_part3.svg -->
<path class="b" d="M 695.81 266.63 L 725.1 279 L 727.27 281.17 L 725.1 290.93 L 722.93 293.1 M 695.81 266.63 L 678.45 274.66 C 675.19 276.83 674.11 281.17 674.11 285.51 L 674.76 305.04 C 675.19 309.38 678.45 311.55 680.62 312.64 L 682.79 326.74 L 700.15 336.51 L 705.57 335.42 L 712.08 323.49 L 722.93 313.72 L 719.68 311.55" style="fill:#fff"/><path class="k" d="M 678.45 274.66 L 688.21 279 M 684.96 271.4 L 692.55 276.18 M 688.21 279 C 686.04 284.42 687.13 288.76 688.21 293.1 L 689.3 310.47 L 691.47 323.49 L 687.13 328.91 M 682.79 290.93 L 686.04 323.49" /><path class="k" d="M 688.21 279 C 692.55 276.18 697.98 277.48 700.15 282.25 C 701.23 286.59 699.06 289.85 695.81 290.93" /><ellipse class="k" cx="692.99" cy="286.16" rx="2.39" ry="3.47" transform="rotate(20 692.99 286.16)" style="stroke-width:1.3"/><path class="k" d="M 704.49 276.83 L 709.91 274.66 L 711 277.91 L 705.57 280.08 Z M 700.15 282.25 L 703.4 280.08" /><path class="b" d="M 692.55 294.19 C 690.38 299.61 691.47 306.12 694.72 310.47 M 695.81 293.1 C 700.15 293.1 703.4 295.27 704.49 299.61 M 706.66 293.1 C 709.91 295.27 711 301.78 708.83 306.12" /><path class="b" d="M 703.4 284.86 L 718.59 290.93 M 704.49 287.68 L 717.51 293.1 M 706.66 283.34 L 711 281.17 L 721.85 285.51 L 718.59 290.93 L 717.51 297.44" /><path class="b" d="M 721.85 295.27 C 725.1 293.1 730.53 295.27 730.53 299.61 L 729.44 307.21 C 728.36 311.55 724.02 312.64 721.85 310.47 L 720.76 301.78 Z" style="fill:#fff"/><ellipse class="k" cx="725.32" cy="302.87" rx="1.52" ry="3.26" transform="rotate(15 725.32 302.87)" style="stroke-width:1.4"/><path class="k" d="M 692.55 314.81 L 705.57 320.23 L 706.66 323.49 L 694.72 319.15 Z M 691.47 323.49 L 700.15 326.74 M 705.57 320.23 L 713.17 311.55 L 719.68 313.72 M 694.72 310.47 L 712.08 318.06 M 708.83 306.12 L 721.85 311.55" /><path class="b" d="M 702.32 284.86 L 702.97 293.1 M 712.08 290.93 L 712.73 297.44 M 716.86 293.1 L 717.51 299.61" style="stroke-width:1.9"/><path class="t" d="M 695.81 298.53 L 732.7 315.89" /><path class="k" d="M 727.27 302.22 L 762 317.41" /><path class="k" d="M584 210.3L627.4 232L627.4 267.5L672.5 287.5" /><path class="b" d="M 720.33 248.62 L 721.85 246.45 L 734.87 251.44 L 735.95 254.04 L 733.78 255.78 L 720.76 250.79 Z" style="fill:#fff"/><path class="b" d="M 721.41 251.44 L 720.33 260.55 C 720.76 265.98 722.93 268.15 726.19 267.06 C 728.36 266.63 729.01 264.46 729.01 262.72 L 730.53 255.13" /><path class="k" d="M 720.76 261.64 C 722.5 264.46 726.19 264.89 729.01 262.72" /><path class="k" d="M724.89 237.11L739.86 243.62" style="stroke-width:3.4"/><path class="k" d="M725.49 237.41L739.26 243.32" style="stroke-width:0.9;stroke:#fff"/><path class="b" d="M 684.25 343.11 C 684.25 340.4 687.87 338.59 691.48 339.95 C 694.2 341.3 694.65 343.56 694.2 345.82 L 690.76 356.22 L 681.72 352.6 Z" style="fill:#fff"/><path class="k" d="M 684.25 343.11 C 686.96 344.47 691.48 345.82 694.2 345.82 M 684.7 344.65 C 687.87 346.27 691.93 347.18 693.83 347.18 M 689.67 348.08 L 687.87 354.41" /><path class="b" d="M 677.02 351.25 L 691.48 358.03 L 692.39 359.39 L 690.13 362.1 L 675.66 355.32 Z" style="fill:#fff;stroke-width:1.7"/><path class="k" d="M670.24 363.63L687.41 371.77" style="stroke-width:3.4"/><path class="k" d="M670.84 363.93L686.81 371.47" style="stroke-width:0.9;stroke:#fff"/>

<!-- 56_part14.svg -->
<path class="b" d="M 983.81 294.51 C 988.15 293.06 996.83 293.79 1004.07 295.96 L 1006.24 293.79 L 1012.75 294.51 L 1030.11 301.75 L 1027.94 299.58 L 1030.11 296.68 L 1034.45 295.96 L 1037.35 298.85 C 1043.14 298.13 1048.2 302.47 1047.48 307.53 C 1046.75 311.87 1041.69 314.05 1037.35 311.87 L 1033.01 312.6 L 1034.45 316.94 C 1039.52 320.56 1042.41 327.07 1040.97 335.75 C 1040.24 338.64 1038.07 340.81 1035.9 341.54 C 1031.56 342.26 1027.22 343.71 1023.6 345.16 L 1024.33 349.5 C 1024.33 353.11 1021.43 355.28 1017.09 353.84 L 1009.86 351.67 L 1007.69 349.5 L 1006.96 345.88 L 989.6 353.11 L 985.26 360.35 C 979.47 363.24 971.51 361.07 968.62 355.28 C 966.45 348.77 967.17 341.54 970.79 336.47 L 972.23 332.13 C 969.34 331.41 967.17 329.24 967.89 325.62 L 970.79 318.39 C 972.23 306.81 978.02 298.13 983.81 294.51 Z" style="fill:#fff;stroke-width:1.6"/><path class="b" d="M 986.7 294.95 C 980.19 299.58 975.13 307.53 973.39 317.66 M 989.6 295.23 C 983.09 300.3 978.02 308.26 976.29 316.94" /><path class="b" d="M 989.6 295.23 C 993.94 294.08 999.73 295.23 1004.07 295.96 M 1006.24 293.79 L 1030.84 302.47 M 1005.52 298.13 L 1025.05 305.36 L 1025.77 308.26" /><path class="b" d="M 1027.94 299.58 L 1028.67 311.15 L 1033.01 312.6 M 1030.84 300.3 L 1031.27 309.7 M 1034.45 295.96 L 1035.18 311.15 M 1037.35 298.85 L 1037.35 311.87" /><ellipse class="k" cx="1042.41" cy="306.09" rx="2.46" ry="3.47" transform="rotate(18 1042.41 306.09)" style="stroke-width:1.5"/><path class="b" d="M 1025.77 308.26 L 1033.01 313.32 M 1027.22 312.6 L 1033.73 314.77" style="stroke-width:2"/><path class="b" d="M 1014.92 316.22 C 1011.3 321.28 1009.13 328.52 1009.86 337.2 L 1013.47 340.81 L 1008.41 347.33 M 1014.92 316.22 C 1019.26 314.05 1024.33 314.77 1028.67 316.94 L 1034.45 316.94" style="stroke-width:1.7"/><path class="b" d="M 1016.37 318.39 C 1013.47 323.45 1012.03 329.96 1012.46 336.47" /><path class="b" d="M 1019.26 322 L 1022.16 317.66 L 1027.22 319.11 L 1028.67 325.62 L 1025.05 329.24 L 1022.88 335.75 L 1018.54 338.64 L 1013.47 337.2 L 1014.92 334.3 L 1019.98 335.75 L 1020.71 329.96 C 1018.54 327.07 1018.54 324.17 1019.26 322 Z" /><ellipse class="w" cx="1031.85" cy="333.58" rx="5.21" ry="7.23" transform="rotate(18 1031.85 333.58)" style="stroke-width:1.5"/><ellipse class="k" cx="1032.28" cy="333.87" rx="2.75" ry="3.91" transform="rotate(18 1032.28 333.87)" style="stroke-width:1.5"/><path class="b" d="M 1034.45 316.94 C 1039.52 320.56 1042.41 327.07 1040.97 335.75 C 1040.24 338.64 1038.07 340.81 1035.9 341.54" style="stroke-width:2.3"/><ellipse class="k" cx="1020.71" cy="350.94" rx="1.59" ry="2.46" transform="rotate(18 1020.71 350.94)" style="stroke-width:1.4"/><path class="b" d="M 976.29 316.94 L 986.7 320.56 L 988.87 324.17 L 988.15 329.24 L 999.73 335.03 L 1001.17 337.92 L 988.15 343.71 M 979.47 322 C 977.3 327.07 978.02 332.86 980.92 336.47 L 986.7 334.3" /><ellipse class="k" cx="983.52" cy="331.41" rx="3.47" ry="5.06" transform="rotate(18 983.52 331.41)" style="stroke-width:1.4"/><ellipse class="k" cx="983.81" cy="331.7" rx="1.74" ry="2.6" transform="rotate(18 983.81 331.7)" style="stroke-width:1.4"/><ellipse class="k" cx="982.36" cy="352.82" rx="5.79" ry="7.96" transform="rotate(18 982.36 352.82)" style="stroke-width:1.5"/><ellipse class="k" cx="982.8" cy="353.11" rx="2.89" ry="4.05" transform="rotate(18 982.8 353.11)" style="stroke-width:1.5"/><path class="b" d="M 973.68 345.16 C 976.58 342.98 983.81 342.26 989.6 343.71 L 991.05 347.33 M 989.6 353.11 L 991.77 346.6 L 1007.69 340.09 M 991.77 346.6 L 991.05 343.71" /><path class="k" d="M 1024.33 351.67 L 1050.37 363.97 L 1023.6 365.41" /><path class="k" d="M961 368.25L946 370L957 375" />

<!-- 57_part5.svg -->
<path class="k" d="M 590.17 430.93 L 606.86 423.41 L 628.57 420.07 L 650.28 433.43 C 658.62 436.77 662.8 440.11 661.13 444.28 L 646.94 458.48 L 638.59 472.17 L 600.18 480.18 L 550.09 473.5 L 540.07 461.82 L 539.24 455.14 L 541.74 451.8 L 564.28 440.95 L 573.47 433.43 Z" style="fill:#fff;stroke:none"/><path class="b" d="M 604.36 387.51 C 604.36 382.5 610.2 380 616.88 381.67 C 620.22 382.5 621.06 386.68 620.22 391.69 L 616.88 412.56 L 628.57 420.07 L 624.39 425.08 L 616.88 426.75 L 601.85 419.24 L 600.18 415.9 L 605.19 398.37 Z" style="fill:#fff;stroke-width:1.8"/><path class="b" d="M 606.86 390.02 L 607.7 396.7 L 602.69 415.9 L 616.88 423.75 L 623.56 421.74 M 610.2 398.37 L 608.53 413.39 L 619.39 420.07 M 616.88 393.36 L 613.54 411.72 L 625.23 419.24" /><ellipse class="w" cx="612.21" cy="391.69" rx="1.84" ry="2.5" transform="rotate(20 612.21 391.69)" style="stroke-width:1.5"/><path class="b" d="M 551.76 425.92 C 550.09 429.26 550.93 433.43 554.27 435.1 L 563.45 438.44 L 564.28 440.95 M 551.76 425.92 C 552.6 421.74 556.77 419.24 559.28 420.91 L 570.13 425.08" /><path class="b" d="M 565.95 425.92 C 563.45 429.26 562.61 435.1 564.28 439.28 M 569.29 425.08 C 565.95 429.26 565.12 435.94 566.79 440.11 M 573.47 424.25 L 570.13 425.08" /><path class="b" d="M 573.47 425.92 L 578.48 427.59 C 586.83 430.09 613.54 443.45 616.88 446.79 C 620.22 451.8 621.06 458.48 618.55 463.49 L 615.21 466.83 M 573.47 433.43 L 603.52 446.79 L 610.2 446.79 M 566.79 440.11 L 567.62 441.78 L 603.52 456.81" /><path class="b" d="M 590.17 430.93 L 606.86 423.41 M 628.57 420.07 L 650.28 433.43 C 658.62 436.77 662.8 440.11 661.13 444.28 L 646.94 458.48 L 638.59 472.17 M 653.61 435.1 C 659.46 438.44 660.29 441.78 658.62 444.28 L 645.27 457.64 M 648.61 435.1 L 636.92 450.13 L 620.22 453.47 M 636.92 450.13 L 640.26 455.14" /><path class="b" d="M 613.54 434.27 C 615.21 431.76 621.89 430.93 628.57 433.43 C 633.58 435.94 635.25 438.44 632.74 440.95 C 630.24 442.61 623.56 442.61 618.55 440.11 C 614.38 438.44 612.71 435.94 613.54 434.27 Z M 619.39 438.44 C 620.22 436.77 626.9 436.77 631.07 439.28" /><path class="b" d="M 566.79 455.97 C 568.46 453.47 573.47 452.63 580.15 455.14 C 585.16 457.64 587.66 460.15 585.16 462.65 C 582.65 464.32 575.97 463.49 570.96 460.98 C 567.62 459.31 565.95 457.64 566.79 455.97 Z M 571.8 459.31 C 573.47 457.64 578.48 457.64 583.49 460.98" /><path class="b" d="M 541.74 451.8 L 564.28 440.95 M 541.74 451.8 L 539.24 455.14 L 540.07 461.82 L 512.52 471" /><path class="b" d="M 527.55 480.07 L 555.1 468.39 L 561.78 469.22 L 583.49 479.24 L 603.52 475.9 L 616.88 470.06 L 641.93 457.53 L 660.29 443.34 L 662.8 440" /><path class="b" d="M 530.89 482.58 L 556.77 471.72 L 562.61 472.56 L 581.82 481.74 L 585.16 482.58 L 604.36 479.24 L 620.22 472.56 L 643.6 460.04" /><path class="b" d="M 538.4 485.92 L 558.44 475.9 L 563.45 475.9 L 580.15 485.08 L 583.49 488.42 L 590.17 488.42 L 603.52 485.08 L 606.86 479.24" /><path class="k" d="M 620.22 472.56 L 621.89 475.06 L 633.58 471.72 L 638.59 467.55 L 638.59 465.05 M 641.93 465.05 L 646.94 460.87 L 655.28 450.02 M 542.58 484.25 L 555.94 479.24" /><path class="b" d="M 545.08 453.36 L 583.49 470.89 L 586.83 471.72 L 606.86 460.04 M 606.86 460.04 C 613.54 465.05 618.55 465.05 620.22 456.7 M 586.83 471.72 L 600.18 468.39 L 608.53 461.71" /><path class="b" d="M 503.34 475.9 C 500.83 471.72 502.5 466.72 506.68 465.05 C 510.02 465.05 512.52 467.55 511.69 471.72 L 521.71 475.9 L 523.38 479.24 M 500.83 477.57 L 503.34 475.9" style="fill:#fff"/><ellipse class="k" cx="506.68" cy="471.39" rx="1.5" ry="2.17" transform="rotate(20 506.68 471.39)" style="stroke-width:1.4"/><path class="k" d="M 516.7 480.07 L 535.9 489.26" style="stroke-width:2;stroke-dasharray:1.2 1.6;stroke-linecap:butt"/><path class="k" d="M 535.9 489.26 L 566.79 500.95" /><path class="k" d="M 397.51 491.4 L 405.86 488.39 L 410.87 480.05 L 419.22 476.71 L 418.39 469.19 L 425.9 462.51 L 445.94 470.86 L 448.44 464.18 L 460.13 462.51 L 471.82 467.52 L 476.83 466.69 L 486.84 471.7 L 490.18 476.71 L 516.9 480.05 L 545.28 498.41 L 552.8 500.08 L 554.47 503.76 L 521.91 520.95 L 514.39 540.16 L 506.88 541.49 Z" style="fill:#fff;stroke:none"/><path class="b" d="M 398.25 491.89 L 405.31 488.63 L 408.56 481.04 L 411.27 480.17 L 440.57 493.52 C 441.11 495.69 440.03 497.86 437.86 498.18 C 435.69 497.86 435.14 496.23 436.01 494.93" /><path class="b" d="M 406.93 482.12 L 408.56 481.04 M 410.19 483.43 L 437.86 495.36" /><path class="b" d="M 418.33 469.65 L 421.04 468.56 L 428.63 462.59 L 432.43 462.38 L 445.99 468.02 L 450.33 463.14 L 454.13 462.38 L 470.95 468.56 L 472.57 466.39 L 480.71 465.85 L 490.48 471.27 L 491.56 475.07 L 496.99 477.78" /><path class="b" d="M 418.33 469.65 L 419.41 472.9 L 442.74 482.67 L 441.65 491.89 C 441.44 494.06 440.57 495.14 438.94 496.23 M 421.04 471.27 L 443.82 481.04" /><path class="b" d="M 430.8 466.39 C 428.63 467.15 429.18 469.1 431.35 469.65 L 451.42 477.78 L 452.5 476.16 L 432.43 467.8 M 442.74 482.67 L 443.28 481.04 L 453.04 476.7" /><path class="b" d="M 451.42 468.02 C 449.79 469.1 450.88 470.73 452.5 471.06 L 460.1 473.99 M 453.59 466.93 L 464.44 471.27 M 446.54 484.29 L 457.93 482.12 L 469.86 477.24" /><path class="b" d="M 474.74 468.02 L 481.8 471.27 M 467.15 471.82 L 480.71 476.7 L 481.8 475.07 L 474.2 472.36 M 480.71 476.7 L 487.22 479.41 L 487.76 481.04 L 481.8 478.87" /><path class="b" d="M 470.4 478.33 C 464.44 480.5 459.01 482.67 456.84 486.46 L 450.33 504.37 C 449.79 506.54 452.5 507.62 454.13 505.45 L 460.1 488.63 C 461.72 484.84 466.61 482.12 470.95 480.5" style="fill:#fff"/><path class="b" d="M 496.99 477.78 C 495.9 471.27 499.16 464.76 504.58 463.68 C 510 463.68 512.17 468.02 511.09 472.36 L 515 473.44" style="fill:#fff"/><path class="b" d="M 500.78 476.7 C 500.24 472.36 502.41 468.02 505.67 467.48 M 493.73 466.39 L 498.07 468.56" /><ellipse class="w" cx="507.29" cy="472.9" rx="2.17" ry="3.25" transform="rotate(20 507.29 472.9)" style="stroke-width:1.5"/><path class="b" d="M 490.48 484.84 L 496.44 482.12 L 501.87 484.29 L 495.9 487.55 Z" /><path class="k" d="M 493.19 485.38 L 496.99 483.43 L 499.7 484.84 L 495.9 486.68 Z" style="fill:#888"/><path class="b" d="M 460.1 488.63 L 490.48 501.65 M 464.44 486.46 L 492.65 498.4 M 466.61 483.43 L 496.99 496.23 M 470.95 480.5 L 499.16 492.43" /><path class="b" d="M 509.06 541.42 L 515.57 540.33 M 508.52 543.59 L 516.65 541.96" /><path class="b" d="M 515.57 540.33 C 517.74 537.08 518.82 533.82 519.91 528.4 L 523.16 519.72 C 524.25 517.55 526.42 516.46 528.59 515.38 L 553.54 503.99 C 555.71 502.9 554.63 500.19 552.46 499.65 L 545.95 498.02" /><path class="b" d="M 513.4 538.71 L 517.74 520.8 C 518.82 516.46 520.99 514.29 524.25 512.67 L 548.12 502.36 M 511.77 537.08 L 516.11 518.63 C 517.2 514.84 519.91 512.67 523.16 511.04 L 545.95 501.27 M 513.94 539.79 C 516.11 535.99 517.74 530.57 519.37 522.97 C 520.45 518.63 523.16 517.01 526.42 515.38 L 550.83 504.53" /><path class="b" d="M 470 487.17 L 497.67 498.56 M 470 491.51 L 495.5 502.36 M 470 495.85 L 493.33 506.16 M 494.41 506.7 L 513.4 514.84 M 498.75 502.9 L 520.99 512.67 M 504.72 499.1 L 526.42 508.33 M 505.8 495.85 L 530.76 505.61 M 513.4 494.76 L 532.93 502.36 M 516.65 492.59 L 536.18 500.19 M 522.08 490.97 L 544.86 499.1 L 545.95 498.02" /><path class="b" d="M 498.75 495.31 C 494.95 496.93 491.7 499.1 490.61 502.9 L 483.02 519.72 C 482.48 522.43 485.73 523.52 486.82 520.8 L 494.41 503.44 C 495.5 500.19 499.29 498.02 503.63 495.85" style="fill:#fff"/><path class="b" d="M 517.74 511.04 C 514.48 512.12 512.86 514.29 511.77 517.55 L 506.89 531.65 C 506.35 533.82 509.06 534.37 509.93 532.2 L 514.48 518.63" style="fill:#fff"/><path class="b" d="M 504.72 489.34 C 504.72 487.17 507.97 486.63 509.06 488.25 L 512.86 489.88 L 520.99 487.71 C 523.16 487.71 523.71 489.88 521.54 490.42 L 513.4 492.59 L 511.23 495.85 L 507.97 495.31 L 508.52 491.51 Z" style="fill:#fff"/><path class="b" d="M398.3 491.9L509.1 541.4" /><path class="b" d="M397.6 493.6L508.5 543.6" /><path class="k" d="M430 508.5L508 544.8" /><path class="b" d="M 440.09 503.76 L 505.21 533.48" /><path class="k" d="M 514.39 470.86 L 541.11 460.84 L 541.11 455" /><path class="k" d="M612.2 391.7L631.25 400" />

<!-- 58_part6.svg -->
<path class="b" d="M 608.86 494.24 L 609.18 499.62 Q 612.66 502.15 617.41 504.37 L 624.05 504.05 L 639.87 497.09 L 640.51 492.66 Z" style="fill:#fff;stroke-width:1.8"/><path class="b" d="M 609.49 492.66 Q 617.09 489.49 625.32 486.33 Q 628.8 485.82 632.28 486.33 Q 636.71 488.23 639.87 490.44 Q 640.63 492.03 640.19 493.61 L 637.97 494.87 L 624.68 500.57 Q 621.2 501.2 617.72 500.89 Q 612.66 498.35 609.49 495.51 Q 608.54 493.92 609.49 492.66 Z" style="fill:#fff;stroke-width:1.8"/><path class="k" d="M 617.72 500.89 L 617.59 504.24 M 624.68 500.57 L 624.37 503.92" /><path class="k" d="M 612.03 494.56 Q 611.39 493.61 612.66 492.97 L 625.32 488.1 Q 628.48 487.47 631.65 487.97 L 637.03 490.76" style="stroke-width:1;stroke-dasharray:0.8 3.2"/><path class="k" d="M630.7 501.8L630.7 516.8" />

<!-- 80_leaders.svg -->
<path class="k" d="M336.75 30L336.75 40" />
<path class="k" d="M382.5 45L382.5 62.5" />
<path class="k" d="M419.5 65.5L419.5 78" />
<path class="k" d="M468.75 87.5L468.75 105" />
<path class="k" d="M374 132.5L374 149.5" />
<path class="k" d="M448 156L448 176" />
<path class="k" d="M741.25 67.5L741.25 83.75" />
<path class="k" d="M776.75 78.75L776.75 97" />
<path class="k" d="M843 113.75L843 133.75" />
<path class="k" d="M703.75 167L703.75 176" />
<path class="k" d="M727.5 173L727.5 182.5" />
<path class="k" d="M781.25 188L781 204" />
<path class="k" d="M840.75 217.5L840.75 235" />
<path class="k" d="M895.5 251L895.5 267" />
<path class="k" d="M962 263L962 280" />
<path class="k" d="M1036 276L1036 295" />
<path class="k" d="M710 238L723 238" />
<path class="k" d="M705 255.5L720 255.5" />
<path class="k" d="M661 305.5L674.5 305.5" />
<path class="k" d="M670 343.75L682 343.75" />
<path class="k" d="M650 365L668.75 365" />
<path class="k" d="M828.25 350L828.25 370" />
<path class="k" d="M1044.75 417.5L1044.75 433.75" />
<path class="k" d="M454 275L454 290" />
<path class="k" d="M504 354L504 370.5" />
<path class="k" d="M541.25 397.5L541.25 411" />
<path class="k" d="M474 384L474 396" />
<path class="k" d="M443 401L443 414" />
<path class="k" d="M409 424L409 437" />
<path class="k" d="M333 416L333 431" />
<path class="k" d="M371 492.5L398.75 492.5" />
<path class="k" d="M582.5 515L582.5 529.5" />
<path class="k" d="M707 443.75L707 461" />
<path class="k" d="M503.5 126.5L511 129L511 141L529 150" />
<path class="k" d="M506 172.5L517.5 177.5" />
<path class="k" d="M581.5 88.5L581.5 106" />
<path class="k" d="M691.5 177.5L691.5 77.5L753.5 105" />


<!-- 85_fr.svg -->
<polygon class="f" points="1031.6,33.5 1052.4,22.1 1051,19.8 1066,24.1 1062,37.5 1060.1,35.1 1039,46.6"/>
<text x="1006" y="63" transform="rotate(-27 1006 63)" style="letter-spacing:1px;font-family:'Liberation Sans',sans-serif;font-size:19px;font-weight:bold;fill:#000;stroke:#000;stroke-width:0.5px">FR.</text>


<!-- 90_labels.svg -->
<text class="l" x="336" y="26.3" style="">24</text>
<text class="l" x="381.75" y="43.8" style="">11</text>
<text class="l" x="419.5" y="61.8" style="">25</text>
<text class="l" x="468.75" y="85.05" style="">15</text>
<text class="l" x="374" y="164.3" style="">27</text>
<text class="l" x="448" y="192.3" style="">2</text>
<text class="l" x="578.5" y="86.3" style="">7</text>
<text class="l" x="741.25" y="64.3" style="">26</text>
<text class="l" x="776.75" y="77.05" style="">9</text>
<text class="l" x="843" y="110.8" style="">10</text>
<text class="l" x="703.75" y="163.8" style="">23</text>
<text class="l" x="727.5" y="170.3" style="">22</text>
<text class="l" x="781.25" y="185.05" style="">12</text>
<text class="l" x="840" y="214.3" style="">24</text>
<text class="l" x="896.5" y="248.8" style="">13</text>
<text class="l" x="961.5" y="260.05" style="">20</text>
<text class="l" x="1036" y="272.3" style="">14</text>
<text class="l" x="698" y="243.3" style="">28</text>
<text class="l" x="696.5" y="261.8" style="">4</text>
<text class="l" x="653.75" y="312.3" style="">3</text>
<text class="l" x="661.25" y="349.3" style="">4</text>
<text class="l" x="637" y="370.8" style="">28</text>
<text class="l" x="829.5" y="386.8" style="">18</text>
<text class="l" x="1045.5" y="451.3" style="">19</text>
<text class="l" x="452.5" y="272.3" style="">31</text>
<text class="l" x="550" y="332.3" style="">1</text>
<text class="l" x="504.5" y="388.8" style="">16</text>
<text class="l" x="540" y="395.05" style="">21</text>
<text class="l" x="474" y="413.8" style="">30</text>
<text class="l" x="443.25" y="431.3" style="">31</text>
<text class="l" x="410" y="455.05" style="">17</text>
<text class="l" x="334" y="447.3" style="">32</text>
<text class="l" x="174.4" y="370.8" style="">8</text>
<text class="l" x="363" y="498.3" style="">5</text>
<text class="l" x="583.75" y="545.05" style="">29</text>
<text class="l" x="631" y="534.3" style="">6</text>
<text class="l" x="707.5" y="477.3" style="">32</text>
<text x="860" y="540.5" textLength="92.4" lengthAdjust="spacing" style="font-family:'Liberation Mono',monospace;font-size:13.2px;fill:#111">SV23-A1100</text>


</svg>
</body></html>
